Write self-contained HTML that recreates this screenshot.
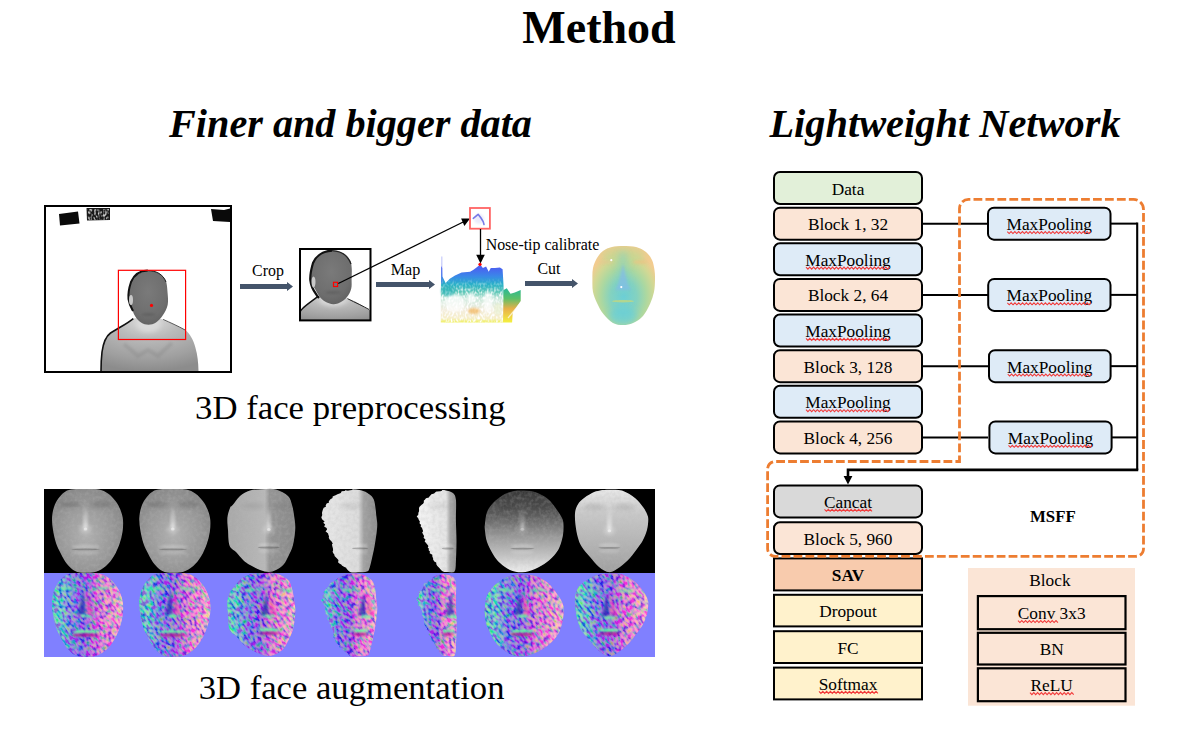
<!DOCTYPE html>
<html><head><meta charset="utf-8"><title>Method</title>
<style>html,body{margin:0;padding:0;background:#fff;}svg{display:block;font-family:"Liberation Serif", "Times New Roman", serif;}</style>
</head><body>
<svg width="1179" height="732" viewBox="0 0 1179 732">
<rect width="1179" height="732" fill="#fff"/>
<defs>
<radialGradient id="gHead" cx="0.5" cy="0.4" r="0.65">
  <stop offset="0" stop-color="#7a7a7a"/><stop offset="0.7" stop-color="#6e6e6e"/><stop offset="1" stop-color="#606060"/>
</radialGradient>
<radialGradient id="gBody" cx="0.48" cy="0.05" r="0.95">
  <stop offset="0" stop-color="#dedede"/><stop offset="0.35" stop-color="#bababa"/><stop offset="0.75" stop-color="#a0a0a0"/><stop offset="1" stop-color="#8c8c8c"/>
</radialGradient>
<linearGradient id="gCloud" gradientUnits="userSpaceOnUse" x1="0" y1="256.5" x2="0" y2="322.4">
  <stop offset="0" stop-color="#5a66f0"/><stop offset="0.175" stop-color="#4a62f0"/><stop offset="0.3" stop-color="#3a88e8"/>
  <stop offset="0.42" stop-color="#28b0c8"/><stop offset="0.54" stop-color="#60c8b8"/><stop offset="0.63" stop-color="#c8e8dc"/>
  <stop offset="0.81" stop-color="#f4eee0"/><stop offset="0.94" stop-color="#f6eec8"/><stop offset="1" stop-color="#f0f060"/>
</linearGradient>
<linearGradient id="gCloudR" x1="0" y1="0" x2="0" y2="1">
  <stop offset="0" stop-color="#28b898"/><stop offset="0.3" stop-color="#5cc068"/><stop offset="0.6" stop-color="#e8b048"/><stop offset="1" stop-color="#f4f040"/>
</linearGradient>
<radialGradient id="gFace3d" cx="0.5" cy="0.64" r="0.6">
  <stop offset="0" stop-color="#6ccfd6"/><stop offset="0.35" stop-color="#84d2c0"/><stop offset="0.6" stop-color="#acd8a0"/><stop offset="0.82" stop-color="#d2d894"/><stop offset="1" stop-color="#f2cc90"/>
</radialGradient>
<linearGradient id="gFaceC" x1="0" y1="0" x2="0" y2="1">
  <stop offset="0" stop-color="#78d0c8" stop-opacity="0.2"/><stop offset="0.5" stop-color="#6ccfd8" stop-opacity="0.6"/><stop offset="1" stop-color="#5ccce4" stop-opacity="0.9"/>
</linearGradient>
<linearGradient id="gNrm" x1="0" y1="0" x2="1" y2="0">
  <stop offset="0" stop-color="#20d890"/><stop offset="0.12" stop-color="#30c8b0"/><stop offset="0.3" stop-color="#4850d0"/><stop offset="0.5" stop-color="#6a34c8"/><stop offset="0.65" stop-color="#e050b8"/><stop offset="0.85" stop-color="#ff78b0"/><stop offset="1" stop-color="#ffb0a8"/>
</linearGradient>
<filter id="fNoise" x="0" y="0" width="100%" height="100%">
  <feTurbulence type="fractalNoise" baseFrequency="0.4 0.22" numOctaves="1" seed="5" result="n"/>
  <feColorMatrix in="n" type="matrix" values="5 0 0 0 -2.0  0 5 0 0 -2.1  0 -4 0 0 2.98  0 0 0 0 0.5"/>
  <feComposite in2="SourceGraphic" operator="in"/>
</filter>
<filter id="fGrain" x="0" y="0" width="100%" height="100%">
  <feTurbulence type="fractalNoise" baseFrequency="0.28" numOctaves="2" seed="7" result="n"/>
  <feColorMatrix in="n" type="matrix" values="0 0 0 0 0.5  0 0 0 0 0.5  0 0 0 0 0.5  0 0 0 -1.2 0.75"/>
  <feComposite in2="SourceGraphic" operator="in"/>
</filter>
<filter id="fSpeck" x="0" y="0" width="100%" height="100%">
  <feTurbulence type="fractalNoise" baseFrequency="0.55 0.35" numOctaves="1" seed="2" result="n"/>
  <feColorMatrix in="n" type="matrix" values="0 0 0 0 1  0 0 0 0 1  0 0 0 0 1  3.2 0 0 0 -1.35"/>
</filter>
<filter id="fBlur05" x="-50%" y="-50%" width="200%" height="200%"><feGaussianBlur stdDeviation="0.5"/></filter>
<filter id="fBlur1" x="-100%" y="-300%" width="300%" height="700%"><feGaussianBlur stdDeviation="1"/></filter>
<filter id="fBlur2" x="-100%" y="-300%" width="300%" height="700%"><feGaussianBlur stdDeviation="2"/></filter>
<filter id="fBlur3" x="-100%" y="-300%" width="300%" height="700%"><feGaussianBlur stdDeviation="3"/></filter>
</defs>
<g>
<rect x="45" y="206" width="186" height="166" fill="#fff"/>
<path d="M59,214 L78,211.5 L79.5,223.5 L60,225.5 Z" fill="#0a0a0a"/>
<path d="M86.5,208 L110,208 L110,220 L87,220.5 Z" fill="#1a1a1a"/>
<clipPath id="cBlob2"><path d="M87.5,209 L109,209 L109,219.5 L88,220 Z"/></clipPath>
<g clip-path="url(#cBlob2)" opacity="0.8"><rect x="86" y="207" width="25" height="15" filter="url(#fSpeck)"/></g>
<path d="M211,209 L224,210 L230,208.5 L230,222 L213,221 Z" fill="#0a0a0a"/>
<path d="M133.3,318.6 C127,324 118,328 110.5,333 C105,337 103,345 102,352 C101.3,358 101,364 101,371 L198.5,371 C198.3,362 197.5,355 195.5,348 C193.5,340 190,334 185.3,330.1 C178,326 170,322.5 163.1,319.4 C156,317.5 140,317 133.3,318.6 Z" fill="url(#gBody)"/>
<path d="M133.3,318.6 C127,324 118,328 110.5,333 C105,337 103,345 102,352 C101.3,358 101,364 101,371" fill="none" stroke="#111" stroke-width="1.6"/>
<path d="M163.1,319.4 C170,322.5 178,326 185.3,330.1" fill="none" stroke="#333" stroke-width="0.8"/>
<path d="M124,344 L138,356 L148,350 L158,356 L172,343" fill="none" stroke="#7a7a7a" stroke-width="4" opacity="0.25" filter="url(#fBlur1)"/>
<ellipse cx="148.5" cy="324" rx="12" ry="8" fill="#dadada" filter="url(#fBlur2)"/>
<path d="M147.80,270.40 C151.72,269.73 155.05,270.90 158.00,272.50 C160.95,274.10 163.92,276.75 165.50,280.00 C167.08,283.25 167.13,287.87 167.50,292.00 C167.87,296.13 168.45,300.97 167.70,304.80 C166.95,308.63 164.95,312.05 163.00,315.00 C161.05,317.95 158.42,320.88 156.00,322.50 C153.58,324.12 151.00,324.70 148.50,324.70 C146.00,324.70 143.25,323.95 141.00,322.50 C138.75,321.05 136.67,318.75 135.00,316.00 C133.33,313.25 132.08,308.88 131.00,306.00 C129.92,303.12 128.75,302.03 128.50,298.70 C128.25,295.37 128.50,289.70 129.50,286.00 C130.50,282.30 131.45,279.10 134.50,276.50 C137.55,273.90 143.88,271.07 147.80,270.40 Z" fill="url(#gHead)"/>
<path d="M147.8,270.6 C140,270.8 134,275 131,282 C129,288 128,294 128.5,299 C129.5,305 131.5,308 133,311" fill="none" stroke="#111" stroke-width="2"/>
<path d="M147.8,270.6 C156,270.8 163,274 166,282" fill="none" stroke="#222" stroke-width="1"/>
<ellipse cx="131" cy="300" rx="2" ry="5" fill="#c8c8c8"/>
<ellipse cx="148.5" cy="314.5" rx="7" ry="1.2" fill="#555" opacity="0.6" filter="url(#fBlur1)"/>
</g>
<rect x="45" y="206" width="186" height="166" fill="none" stroke="#000" stroke-width="2"/>
<svg x="300" y="249" width="70.5" height="71.4" viewBox="300 249 70.5 71.4" overflow="hidden">
<rect x="300" y="249" width="70.5" height="71.4" fill="#fff"/>
<path d="M317.90,296.40 C314.07,297.40 312.55,300.00 310.00,302.00 C307.45,304.00 304.27,306.90 302.60,308.40 C300.93,309.90 300.43,308.73 300.00,311.00 C299.57,313.27 288.17,320.17 300.00,322.00 C311.83,323.83 359.17,323.83 371.00,322.00 C382.83,320.17 371.48,313.08 371.00,311.00 C370.52,308.92 370.27,310.83 368.10,309.50 C365.93,308.17 361.45,304.82 358.00,303.00 C354.55,301.18 351.57,299.77 347.40,298.60 C343.23,297.43 337.92,296.37 333.00,296.00 C328.08,295.63 321.73,295.40 317.90,296.40 Z" fill="url(#gBody)"/>
<path d="M317.9,296.4 C312,301 306,305 302.6,308.4 C301,310 300.5,311 300,312" fill="none" stroke="#111" stroke-width="1.4"/>
<path d="M347.4,298.6 C356,303 363,306 369,309.5" fill="none" stroke="#222" stroke-width="1"/>
<ellipse cx="333" cy="300" rx="13" ry="6" fill="#d8d8d8" filter="url(#fBlur2)"/>
<path d="M332.10,250.50 C335.10,250.75 340.02,251.42 343.00,253.00 C345.98,254.58 348.55,257.50 350.00,260.00 C351.45,262.50 351.43,264.83 351.70,268.00 C351.97,271.17 351.68,275.55 351.60,279.00 C351.52,282.45 351.97,285.70 351.20,288.70 C350.43,291.70 348.87,294.70 347.00,297.00 C345.13,299.30 342.30,301.30 340.00,302.50 C337.70,303.70 335.70,304.37 333.20,304.20 C330.70,304.03 327.28,302.80 325.00,301.50 C322.72,300.20 321.17,298.48 319.50,296.40 C317.83,294.32 316.50,291.73 315.00,289.00 C313.50,286.27 311.08,283.83 310.50,280.00 C309.92,276.17 310.25,270.00 311.50,266.00 C312.75,262.00 315.75,258.42 318.00,256.00 C320.25,253.58 322.65,252.42 325.00,251.50 C327.35,250.58 329.10,250.25 332.10,250.50 Z" fill="url(#gHead)"/>
<path d="M332,250.6 C323,251 316,256 313,263 C311,270 310,276 310.3,280 C311,286 313,290 316,294 C317,296 318,297 319,298" fill="none" stroke="#111" stroke-width="2.2"/>
<path d="M332,250.6 C342,251 348,256 351,264" fill="none" stroke="#222" stroke-width="1.2"/>
<ellipse cx="313.5" cy="282" rx="2" ry="5.5" fill="#c8c8c8"/>
<ellipse cx="333.2" cy="292.5" rx="8" ry="1.4" fill="#555" opacity="0.5" filter="url(#fBlur1)"/>
</svg>
<rect x="300" y="249" width="70.5" height="71.4" fill="none" stroke="#000" stroke-width="2"/>
<path d="M441.2,266 L442.2,268 L442.4,276.6 L445.6,283 L449.8,278.8 L455,275.5 L461.6,272.4 L470.1,271.8 L473.5,269.8 L476.5,267.6 L480.2,264.4 L482.9,268.1 L486.1,266.5 L488.7,271.8 L490.8,268.1 L495,267.9 L499.9,267.6 L502.6,269.2 L503.6,286.2 L504,300 L503,322.4 L440.8,322.4 L440.8,300 Z" fill="url(#gCloud)"/>
<clipPath id="cCloud"><path d="M441.2,266 L442.2,268 L442.4,276.6 L445.6,283 L449.8,278.8 L455,275.5 L461.6,272.4 L470.1,271.8 L473.5,269.8 L476.5,267.6 L480.2,264.4 L482.9,268.1 L486.1,266.5 L488.7,271.8 L490.8,268.1 L495,267.9 L499.9,267.6 L502.6,269.2 L503.6,286.2 L504,300 L503,322.4 L440.8,322.4 L440.8,300 Z"/></clipPath>
<linearGradient id="gSpM" gradientUnits="userSpaceOnUse" x1="0" y1="278" x2="0" y2="296"><stop offset="0" stop-color="#fff" stop-opacity="0"/><stop offset="1" stop-color="#fff" stop-opacity="1"/></linearGradient>
<mask id="mSp" maskUnits="userSpaceOnUse" x="430" y="270" width="100" height="60"><rect x="430" y="270" width="100" height="60" fill="url(#gSpM)"/></mask>
<g clip-path="url(#cCloud)" mask="url(#mSp)"><rect x="440" y="278" width="65" height="46" filter="url(#fSpeck)"/></g>
<g fill="#fff" opacity="0.7" filter="url(#fBlur1)"><ellipse cx="455" cy="303" rx="10" ry="9"/><ellipse cx="488" cy="302" rx="4.5" ry="11"/><ellipse cx="471" cy="298" rx="4" ry="5"/></g>
<ellipse cx="448" cy="291" rx="7" ry="5" fill="#28b0b8" opacity="0.55" filter="url(#fBlur1)"/>
<ellipse cx="474" cy="311" rx="6" ry="3" fill="#f0a840" opacity="0.6" filter="url(#fBlur1)"/>
<ellipse cx="498" cy="309" rx="4" ry="6" fill="#e8f0d0" opacity="0.7" filter="url(#fBlur1)"/>
<path d="M441.2,256.5 L442.4,256.5 L442.6,284 L441,284 Z" fill="#6070f0" opacity="0.35"/>
<path d="M503.6,290 L506.8,288.3 L510.5,293.7 L514.8,292.6 L520.7,289.9 L520.7,301.1 L512.7,312.8 L512.1,322.4 L503,322.4 Z" fill="url(#gCloudR)"/>
<path d="M520.5,303 L508,318" stroke="#fff" stroke-width="1.2" opacity="0.7"/>
<ellipse cx="479" cy="219" rx="5" ry="5" fill="#b0b0f0" opacity="0.25" filter="url(#fBlur1)"/>
<path d="M473.3,218.3 L478.1,214.3 L481,218 L483.2,221.6 L484,224.5" stroke="#4e50e0" stroke-width="1.6" fill="none" opacity="0.75" stroke-linecap="round" stroke-linejoin="round" filter="url(#fBlur05)"/>
<clipPath id="cF3"><path d="M623.00,246.00 C627.00,246.00 632.17,246.00 636.00,247.00 C639.83,248.00 643.33,249.83 646.00,252.00 C648.67,254.17 650.58,257.00 652.00,260.00 C653.42,263.00 654.00,266.67 654.50,270.00 C655.00,273.33 655.08,276.33 655.00,280.00 C654.92,283.67 654.83,288.00 654.00,292.00 C653.17,296.00 651.83,300.00 650.00,304.00 C648.17,308.00 645.83,312.83 643.00,316.00 C640.17,319.17 636.33,321.50 633.00,323.00 C629.67,324.50 626.33,325.00 623.00,325.00 C619.67,325.00 616.27,324.83 613.00,323.00 C609.73,321.17 606.07,317.33 603.40,314.00 C600.73,310.67 598.73,306.67 597.00,303.00 C595.27,299.33 593.77,295.83 593.00,292.00 C592.23,288.17 592.40,284.00 592.40,280.00 C592.40,276.00 592.23,271.67 593.00,268.00 C593.77,264.33 595.33,260.83 597.00,258.00 C598.67,255.17 600.50,252.83 603.00,251.00 C605.50,249.17 608.67,247.83 612.00,247.00 C615.33,246.17 619.00,246.00 623.00,246.00 Z"/></clipPath>
<path d="M623.00,246.00 C627.00,246.00 632.17,246.00 636.00,247.00 C639.83,248.00 643.33,249.83 646.00,252.00 C648.67,254.17 650.58,257.00 652.00,260.00 C653.42,263.00 654.00,266.67 654.50,270.00 C655.00,273.33 655.08,276.33 655.00,280.00 C654.92,283.67 654.83,288.00 654.00,292.00 C653.17,296.00 651.83,300.00 650.00,304.00 C648.17,308.00 645.83,312.83 643.00,316.00 C640.17,319.17 636.33,321.50 633.00,323.00 C629.67,324.50 626.33,325.00 623.00,325.00 C619.67,325.00 616.27,324.83 613.00,323.00 C609.73,321.17 606.07,317.33 603.40,314.00 C600.73,310.67 598.73,306.67 597.00,303.00 C595.27,299.33 593.77,295.83 593.00,292.00 C592.23,288.17 592.40,284.00 592.40,280.00 C592.40,276.00 592.23,271.67 593.00,268.00 C593.77,264.33 595.33,260.83 597.00,258.00 C598.67,255.17 600.50,252.83 603.00,251.00 C605.50,249.17 608.67,247.83 612.00,247.00 C615.33,246.17 619.00,246.00 623.00,246.00 Z" fill="url(#gFace3d)"/>
<g clip-path="url(#cF3)">
<ellipse cx="623" cy="256" rx="22" ry="10" fill="#bcd892" opacity="0.55" filter="url(#fBlur3)"/>
<path d="M619,252 L627,252 L630,290 L616,290 Z" fill="#7cd0c8" opacity="0.45" filter="url(#fBlur3)"/>
<path d="M623,264 L618.5,283 L615.5,290 L630.5,290 L627.5,283 Z" fill="#84b8ee" opacity="0.6" filter="url(#fBlur1)"/>
<ellipse cx="623" cy="301.2" rx="11" ry="1.3" fill="#bcd888" opacity="0.9" filter="url(#fBlur05)"/>
<ellipse cx="623" cy="316" rx="14" ry="9" fill="#60cee0" opacity="0.6" filter="url(#fBlur3)"/>
<ellipse cx="606" cy="262" rx="7" ry="2" fill="#e8c890" opacity="0.45" filter="url(#fBlur1)"/>
<ellipse cx="640" cy="262" rx="7" ry="2" fill="#f0c080" opacity="0.55" filter="url(#fBlur1)"/>
</g>
<circle cx="611.3" cy="260.2" r="1.1" fill="#fff"/><circle cx="621.3" cy="287.1" r="1.1" fill="#fff"/>
<text x="599" y="43" font-size="46" font-weight="bold" font-style="normal" text-anchor="middle" fill="#000" >Method</text>
<text x="350.5" y="137" font-size="40.2" font-weight="bold" font-style="italic" text-anchor="middle" fill="#000" >Finer and bigger data</text>
<text x="945" y="137.4" font-size="40.4" font-weight="bold" font-style="italic" text-anchor="middle" fill="#000" >Lightweight Network</text>
<text x="350.35" y="419" font-size="34.74" font-weight="normal" font-style="normal" text-anchor="middle" fill="#000" >3D face preprocessing</text>
<text x="351.6" y="699" font-size="34.63" font-weight="normal" font-style="normal" text-anchor="middle" fill="#000" >3D face augmentation</text>
<line x1="922" y1="223.63" x2="988" y2="223.63" stroke="#000" stroke-width="2"/>
<line x1="1110" y1="223.63" x2="1137.2" y2="223.63" stroke="#000" stroke-width="2"/>
<line x1="922" y1="294.89" x2="988" y2="294.89" stroke="#000" stroke-width="2"/>
<line x1="1110" y1="294.89" x2="1137.2" y2="294.89" stroke="#000" stroke-width="2"/>
<line x1="922" y1="366.15" x2="988" y2="366.15" stroke="#000" stroke-width="2"/>
<line x1="1110" y1="366.15" x2="1137.2" y2="366.15" stroke="#000" stroke-width="2"/>
<line x1="922" y1="437.41" x2="988" y2="437.41" stroke="#000" stroke-width="2"/>
<line x1="1110" y1="437.41" x2="1137.2" y2="437.41" stroke="#000" stroke-width="2"/>
<polyline points="1136.2,223.63 1137.2,223.63 1137.2,469.9" fill="none" stroke="#000" stroke-width="2.1"/>
<polyline points="1138.25,469.9 848,469.9 848,477" fill="none" stroke="#000" stroke-width="2.6"/>
<polygon points="843.6,476 852.4,476 848,484.4" fill="#000"/>
<rect x="774.0" y="172.0" width="148.0" height="32.0" rx="6" fill="#E2F0D9" stroke="#000" stroke-width="2.0"/>
<rect x="774.0" y="207.63" width="148.0" height="32.0" rx="6" fill="#FBE5D6" stroke="#000" stroke-width="2.0"/>
<rect x="774.0" y="243.26" width="148.0" height="32.0" rx="6" fill="#DEEBF7" stroke="#000" stroke-width="2.0"/>
<rect x="774.0" y="278.89" width="148.0" height="32.0" rx="6" fill="#FBE5D6" stroke="#000" stroke-width="2.0"/>
<rect x="774.0" y="314.52" width="148.0" height="32.0" rx="6" fill="#DEEBF7" stroke="#000" stroke-width="2.0"/>
<rect x="774.0" y="350.15" width="148.0" height="32.0" rx="6" fill="#FBE5D6" stroke="#000" stroke-width="2.0"/>
<rect x="774.0" y="385.78000000000003" width="148.0" height="32.0" rx="6" fill="#DEEBF7" stroke="#000" stroke-width="2.0"/>
<rect x="774.0" y="421.41" width="148.0" height="32.0" rx="6" fill="#FBE5D6" stroke="#000" stroke-width="2.0"/>
<text x="848" y="194.6" font-size="17.3" font-weight="normal" font-style="normal" text-anchor="middle" fill="#000" >Data</text>
<text x="848" y="230.23" font-size="17.3" font-weight="normal" font-style="normal" text-anchor="middle" fill="#000" >Block 1, 32</text>
<text x="848" y="265.86" font-size="17.3" font-weight="normal" font-style="normal" text-anchor="middle" fill="#000" >MaxPooling</text>
<polyline points="806.00,267.16 807.90,269.16 809.80,267.16 811.70,269.16 813.60,267.16 815.50,269.16 817.40,267.16 819.30,269.16 821.20,267.16 823.10,269.16 825.00,267.16 826.90,269.16 828.80,267.16 830.70,269.16 832.60,267.16 834.50,269.16 836.40,267.16 838.30,269.16 840.20,267.16 842.10,269.16 844.00,267.16 845.90,269.16 847.80,267.16 849.70,269.16 851.60,267.16 853.50,269.16 855.40,267.16 857.30,269.16 859.20,267.16 861.10,269.16 863.00,267.16 864.90,269.16 866.80,267.16 868.70,269.16 870.60,267.16 872.50,269.16 874.40,267.16 876.30,269.16 878.20,267.16 880.10,269.16 882.00,267.16 883.90,269.16 885.80,267.16 887.70,269.16 889.60,267.16" fill="none" stroke="#f23a3a" stroke-width="1.1"/>
<text x="848" y="301.49" font-size="17.3" font-weight="normal" font-style="normal" text-anchor="middle" fill="#000" >Block 2, 64</text>
<text x="848" y="337.12" font-size="17.3" font-weight="normal" font-style="normal" text-anchor="middle" fill="#000" >MaxPooling</text>
<polyline points="806.00,338.42 807.90,340.42 809.80,338.42 811.70,340.42 813.60,338.42 815.50,340.42 817.40,338.42 819.30,340.42 821.20,338.42 823.10,340.42 825.00,338.42 826.90,340.42 828.80,338.42 830.70,340.42 832.60,338.42 834.50,340.42 836.40,338.42 838.30,340.42 840.20,338.42 842.10,340.42 844.00,338.42 845.90,340.42 847.80,338.42 849.70,340.42 851.60,338.42 853.50,340.42 855.40,338.42 857.30,340.42 859.20,338.42 861.10,340.42 863.00,338.42 864.90,340.42 866.80,338.42 868.70,340.42 870.60,338.42 872.50,340.42 874.40,338.42 876.30,340.42 878.20,338.42 880.10,340.42 882.00,338.42 883.90,340.42 885.80,338.42 887.70,340.42 889.60,338.42" fill="none" stroke="#f23a3a" stroke-width="1.1"/>
<text x="848" y="372.75" font-size="17.3" font-weight="normal" font-style="normal" text-anchor="middle" fill="#000" >Block 3, 128</text>
<text x="848" y="408.38000000000005" font-size="17.3" font-weight="normal" font-style="normal" text-anchor="middle" fill="#000" >MaxPooling</text>
<polyline points="806.00,409.68 807.90,411.68 809.80,409.68 811.70,411.68 813.60,409.68 815.50,411.68 817.40,409.68 819.30,411.68 821.20,409.68 823.10,411.68 825.00,409.68 826.90,411.68 828.80,409.68 830.70,411.68 832.60,409.68 834.50,411.68 836.40,409.68 838.30,411.68 840.20,409.68 842.10,411.68 844.00,409.68 845.90,411.68 847.80,409.68 849.70,411.68 851.60,409.68 853.50,411.68 855.40,409.68 857.30,411.68 859.20,409.68 861.10,411.68 863.00,409.68 864.90,411.68 866.80,409.68 868.70,411.68 870.60,409.68 872.50,411.68 874.40,409.68 876.30,411.68 878.20,409.68 880.10,411.68 882.00,409.68 883.90,411.68 885.80,409.68 887.70,411.68 889.60,409.68" fill="none" stroke="#f23a3a" stroke-width="1.1"/>
<text x="848" y="444.01000000000005" font-size="17.3" font-weight="normal" font-style="normal" text-anchor="middle" fill="#000" >Block 4, 256</text>
<rect x="988.0" y="207.63" width="122.5" height="32.0" rx="6" fill="#DEEBF7" stroke="#000" stroke-width="2.0"/>
<text x="1049.25" y="230.23" font-size="17.3" font-weight="normal" font-style="normal" text-anchor="middle" fill="#000" >MaxPooling</text>
<polyline points="1007.25,231.53 1009.15,233.53 1011.05,231.53 1012.95,233.53 1014.85,231.53 1016.75,233.53 1018.65,231.53 1020.55,233.53 1022.45,231.53 1024.35,233.53 1026.25,231.53 1028.15,233.53 1030.05,231.53 1031.95,233.53 1033.85,231.53 1035.75,233.53 1037.65,231.53 1039.55,233.53 1041.45,231.53 1043.35,233.53 1045.25,231.53 1047.15,233.53 1049.05,231.53 1050.95,233.53 1052.85,231.53 1054.75,233.53 1056.65,231.53 1058.55,233.53 1060.45,231.53 1062.35,233.53 1064.25,231.53 1066.15,233.53 1068.05,231.53 1069.95,233.53 1071.85,231.53 1073.75,233.53 1075.65,231.53 1077.55,233.53 1079.45,231.53 1081.35,233.53 1083.25,231.53 1085.15,233.53 1087.05,231.53 1088.95,233.53 1090.85,231.53" fill="none" stroke="#f23a3a" stroke-width="1.1"/>
<rect x="988.2" y="278.89" width="122.29999999999995" height="32.0" rx="6" fill="#DEEBF7" stroke="#000" stroke-width="2.0"/>
<text x="1049.35" y="301.49" font-size="17.3" font-weight="normal" font-style="normal" text-anchor="middle" fill="#000" >MaxPooling</text>
<polyline points="1007.35,302.79 1009.25,304.79 1011.15,302.79 1013.05,304.79 1014.95,302.79 1016.85,304.79 1018.75,302.79 1020.65,304.79 1022.55,302.79 1024.45,304.79 1026.35,302.79 1028.25,304.79 1030.15,302.79 1032.05,304.79 1033.95,302.79 1035.85,304.79 1037.75,302.79 1039.65,304.79 1041.55,302.79 1043.45,304.79 1045.35,302.79 1047.25,304.79 1049.15,302.79 1051.05,304.79 1052.95,302.79 1054.85,304.79 1056.75,302.79 1058.65,304.79 1060.55,302.79 1062.45,304.79 1064.35,302.79 1066.25,304.79 1068.15,302.79 1070.05,304.79 1071.95,302.79 1073.85,304.79 1075.75,302.79 1077.65,304.79 1079.55,302.79 1081.45,304.79 1083.35,302.79 1085.25,304.79 1087.15,302.79 1089.05,304.79 1090.95,302.79" fill="none" stroke="#f23a3a" stroke-width="1.1"/>
<rect x="989.0" y="350.15" width="121.59999999999991" height="32.0" rx="6" fill="#DEEBF7" stroke="#000" stroke-width="2.0"/>
<text x="1049.8" y="372.75" font-size="17.3" font-weight="normal" font-style="normal" text-anchor="middle" fill="#000" >MaxPooling</text>
<polyline points="1007.80,374.05 1009.70,376.05 1011.60,374.05 1013.50,376.05 1015.40,374.05 1017.30,376.05 1019.20,374.05 1021.10,376.05 1023.00,374.05 1024.90,376.05 1026.80,374.05 1028.70,376.05 1030.60,374.05 1032.50,376.05 1034.40,374.05 1036.30,376.05 1038.20,374.05 1040.10,376.05 1042.00,374.05 1043.90,376.05 1045.80,374.05 1047.70,376.05 1049.60,374.05 1051.50,376.05 1053.40,374.05 1055.30,376.05 1057.20,374.05 1059.10,376.05 1061.00,374.05 1062.90,376.05 1064.80,374.05 1066.70,376.05 1068.60,374.05 1070.50,376.05 1072.40,374.05 1074.30,376.05 1076.20,374.05 1078.10,376.05 1080.00,374.05 1081.90,376.05 1083.80,374.05 1085.70,376.05 1087.60,374.05 1089.50,376.05 1091.40,374.05" fill="none" stroke="#f23a3a" stroke-width="1.1"/>
<rect x="989.4" y="421.41" width="122.19999999999993" height="32.0" rx="6" fill="#DEEBF7" stroke="#000" stroke-width="2.0"/>
<text x="1050.5" y="444.01000000000005" font-size="17.3" font-weight="normal" font-style="normal" text-anchor="middle" fill="#000" >MaxPooling</text>
<polyline points="1008.50,445.31 1010.40,447.31 1012.30,445.31 1014.20,447.31 1016.10,445.31 1018.00,447.31 1019.90,445.31 1021.80,447.31 1023.70,445.31 1025.60,447.31 1027.50,445.31 1029.40,447.31 1031.30,445.31 1033.20,447.31 1035.10,445.31 1037.00,447.31 1038.90,445.31 1040.80,447.31 1042.70,445.31 1044.60,447.31 1046.50,445.31 1048.40,447.31 1050.30,445.31 1052.20,447.31 1054.10,445.31 1056.00,447.31 1057.90,445.31 1059.80,447.31 1061.70,445.31 1063.60,447.31 1065.50,445.31 1067.40,447.31 1069.30,445.31 1071.20,447.31 1073.10,445.31 1075.00,447.31 1076.90,445.31 1078.80,447.31 1080.70,445.31 1082.60,447.31 1084.50,445.31 1086.40,447.31 1088.30,445.31 1090.20,447.31 1092.10,445.31" fill="none" stroke="#f23a3a" stroke-width="1.1"/>
<rect x="774.0" y="485.4" width="148.0" height="32.0" rx="6" fill="#D9D9D9" stroke="#000" stroke-width="2.0"/>
<text x="848" y="508.0" font-size="17.3" font-weight="normal" font-style="normal" text-anchor="middle" fill="#000" >Cancat</text>
<polyline points="824.50,509.30 826.40,511.30 828.30,509.30 830.20,511.30 832.10,509.30 834.00,511.30 835.90,509.30 837.80,511.30 839.70,509.30 841.60,511.30 843.50,509.30 845.40,511.30 847.30,509.30 849.20,511.30 851.10,509.30 853.00,511.30 854.90,509.30 856.80,511.30 858.70,509.30 860.60,511.30 862.50,509.30 864.40,511.30 866.30,509.30 868.20,511.30 870.10,509.30 872.00,511.30" fill="none" stroke="#f23a3a" stroke-width="1.1"/>
<rect x="774.0" y="522.2" width="148.0" height="31.799999999999955" rx="6" fill="#FBE5D6" stroke="#000" stroke-width="2.0"/>
<text x="848" y="544.7" font-size="17.3" font-weight="normal" font-style="normal" text-anchor="middle" fill="#000" >Block 5, 960</text>
<rect x="774.0" y="558.4" width="148.0" height="32.0" rx="0" fill="#F8CBAD" stroke="#000" stroke-width="2.0"/>
<text x="848" y="580.8" font-size="17.3" font-weight="bold" font-style="normal" text-anchor="middle" fill="#000" >SAV</text>
<rect x="774.0" y="594.8" width="148.0" height="31.600000000000023" rx="0" fill="#FFF2CC" stroke="#000" stroke-width="2.0"/>
<text x="848" y="617.1999999999999" font-size="17.3" font-weight="normal" font-style="normal" text-anchor="middle" fill="#000" >Dropout</text>
<rect x="774.0" y="631.2" width="148.0" height="31.799999999999955" rx="0" fill="#FFF2CC" stroke="#000" stroke-width="2.0"/>
<text x="848" y="653.7" font-size="17.3" font-weight="normal" font-style="normal" text-anchor="middle" fill="#000" >FC</text>
<rect x="774.0" y="667.6" width="148.0" height="31.799999999999955" rx="0" fill="#FFF2CC" stroke="#000" stroke-width="2.0"/>
<text x="848" y="690.1" font-size="17.3" font-weight="normal" font-style="normal" text-anchor="middle" fill="#000" >Softmax</text>
<polyline points="819.00,691.40 820.90,693.40 822.80,691.40 824.70,693.40 826.60,691.40 828.50,693.40 830.40,691.40 832.30,693.40 834.20,691.40 836.10,693.40 838.00,691.40 839.90,693.40 841.80,691.40 843.70,693.40 845.60,691.40 847.50,693.40 849.40,691.40 851.30,693.40 853.20,691.40 855.10,693.40 857.00,691.40 858.90,693.40 860.80,691.40 862.70,693.40 864.60,691.40 866.50,693.40 868.40,691.40 870.30,693.40 872.20,691.40 874.10,693.40 876.00,691.40 877.90,693.40" fill="none" stroke="#f23a3a" stroke-width="1.1"/>
<path d="M 959.5 461.5 L 959.5 208.4 A 9 9 0 0 1 968.5 199.4 L 1133.5 199.4 A 10 10 0 0 1 1143.5 209.4 L 1143.5 548.8 A 7.5 7.5 0 0 1 1136 556.3 L 775.1 556.3 A 7.5 7.5 0 0 1 767.6 548.8 L 767.6 469.1 A 7.6 7.6 0 0 1 775.2 461.5 Z" fill="none" stroke="#ED7D31" stroke-width="2.8" stroke-dasharray="8.8 3.15" stroke-dashoffset="2.7"/>
<text x="1052.8" y="522.3" font-size="16.8" font-weight="bold" font-style="normal" text-anchor="middle" fill="#000" >MSFF</text>
<rect x="968" y="568" width="167" height="137.7" fill="#FBE5D6"/>
<text x="1049.9" y="585.6" font-size="17.3" font-weight="normal" font-style="normal" text-anchor="middle" fill="#000" >Block</text>
<rect x="977.9" y="596.1" width="147.59999999999997" height="33.09999999999995" rx="0" fill="#FBE5D6" stroke="#000" stroke-width="2.2"/>
<text x="1051.7" y="619.25" font-size="17.3" font-weight="normal" font-style="normal" text-anchor="middle" fill="#000" >Conv 3x3</text>
<polyline points="1018.00,620.55 1019.90,622.55 1021.80,620.55 1023.70,622.55 1025.60,620.55 1027.50,622.55 1029.40,620.55 1031.30,622.55 1033.20,620.55 1035.10,622.55 1037.00,620.55 1038.90,622.55 1040.80,620.55 1042.70,622.55 1044.60,620.55 1046.50,622.55 1048.40,620.55 1050.30,622.55 1052.20,620.55 1054.10,622.55 1056.00,620.55 1057.90,622.55" fill="none" stroke="#f23a3a" stroke-width="1.1"/>
<rect x="977.9" y="632.8000000000001" width="147.59999999999997" height="31.699999999999978" rx="0" fill="#FBE5D6" stroke="#000" stroke-width="2.2"/>
<text x="1051.7" y="655.2500000000001" font-size="17.3" font-weight="normal" font-style="normal" text-anchor="middle" fill="#000" >BN</text>
<rect x="977.9" y="668.3000000000001" width="147.59999999999997" height="32.899999999999906" rx="0" fill="#FBE5D6" stroke="#000" stroke-width="2.2"/>
<text x="1051.7" y="691.35" font-size="17.3" font-weight="normal" font-style="normal" text-anchor="middle" fill="#000" >ReLU</text>
<polyline points="1030.00,692.65 1031.90,694.65 1033.80,692.65 1035.70,694.65 1037.60,692.65 1039.50,694.65 1041.40,692.65 1043.30,694.65 1045.20,692.65 1047.10,694.65 1049.00,692.65 1050.90,694.65 1052.80,692.65 1054.70,694.65 1056.60,692.65 1058.50,694.65 1060.40,692.65 1062.30,694.65 1064.20,692.65 1066.10,694.65 1068.00,692.65 1069.90,694.65 1071.80,692.65 1073.70,694.65" fill="none" stroke="#f23a3a" stroke-width="1.1"/>
<polygon points="240,284.0 287,284.0 287,282.0 293,286.5 287,291.0 287,289.0 240,289.0" fill="#44546A"/>
<polygon points="376,282.0 429,282.0 429,280.0 435,284.5 429,289.0 429,287.0 376,287.0" fill="#44546A"/>
<polygon points="525,281.1 572,281.1 572,279.1 578,283.6 572,288.1 572,286.1 525,286.1" fill="#44546A"/>
<text x="268" y="275.6" font-size="15.9" font-weight="normal" font-style="normal" text-anchor="middle" fill="#000" >Crop</text>
<text x="405.5" y="274.8" font-size="16.1" font-weight="normal" font-style="normal" text-anchor="middle" fill="#000" >Map</text>
<text x="549" y="273.7" font-size="15.9" font-weight="normal" font-style="normal" text-anchor="middle" fill="#000" >Cut</text>
<text x="542.5" y="250" font-size="15.95" font-weight="normal" font-style="normal" text-anchor="middle" fill="#000" >Nose-tip calibrate</text>
<rect x="118.4" y="270.3" width="67.2" height="69.2" fill="none" stroke="#f00" stroke-width="1.2"/>
<circle cx="151.5" cy="305.4" r="1.6" fill="#f00"/>
<rect x="333.5" y="282.3" width="4.1" height="4.2" fill="none" stroke="#f00" stroke-width="1.2"/>
<line x1="338.3" y1="283.5" x2="463.2" y2="222" stroke="#000" stroke-width="1.3"/>
<polygon points="470,218.4 461.1,218.4 464.4,226" fill="#000"/>
<rect x="470" y="208" width="19.9" height="20.7" fill="none" stroke="#ff6464" stroke-width="1.8"/>
<line x1="480.5" y1="229" x2="480.5" y2="258" stroke="#000" stroke-width="1.3"/>
<polygon points="476.2,254.8 484.8,254.8 480.5,263.6" fill="#000"/>
<circle cx="480" cy="264.3" r="1.6" fill="#f00"/>
<rect x="44" y="489" width="611" height="84" fill="#000"/>
<rect x="44" y="573" width="611" height="84" fill="#8080FF"/>
<defs>
<radialGradient id="gf1" cx="0.48" cy="0.55" r="0.62"><stop offset="0" stop-color="#b0b0b0"/><stop offset="0.6" stop-color="#999"/><stop offset="1" stop-color="#858585"/></radialGradient>
<linearGradient id="gf3" x1="0" y1="0" x2="1" y2="0"><stop offset="0" stop-color="#a8a8a8"/><stop offset="0.55" stop-color="#b8b8b8"/><stop offset="0.62" stop-color="#959595"/><stop offset="1" stop-color="#8a8a8a"/></linearGradient>
<linearGradient id="gf4" x1="0" y1="0" x2="1" y2="0"><stop offset="0" stop-color="#e8e8e8"/><stop offset="0.66" stop-color="#dcdcdc"/><stop offset="0.76" stop-color="#a0a0a0"/><stop offset="1" stop-color="#8e8e8e"/></linearGradient>
<linearGradient id="gf5" x1="0" y1="0" x2="1" y2="0"><stop offset="0" stop-color="#f4f4f4"/><stop offset="0.74" stop-color="#e4e4e4"/><stop offset="0.84" stop-color="#a8a8a8"/><stop offset="1" stop-color="#909090"/></linearGradient>
<linearGradient id="gf6" x1="0" y1="0" x2="0" y2="1"><stop offset="0" stop-color="#383838"/><stop offset="0.3" stop-color="#5c5c5c"/><stop offset="0.55" stop-color="#969696"/><stop offset="0.8" stop-color="#c4c4c4"/><stop offset="1" stop-color="#f0f0f0"/></linearGradient>
<linearGradient id="gf7" x1="0" y1="0" x2="0" y2="1"><stop offset="0" stop-color="#e8e8e8"/><stop offset="0.3" stop-color="#c8c8c8"/><stop offset="1" stop-color="#a0a0a0"/></linearGradient>
<linearGradient id="gNose" x1="0" y1="0" x2="0" y2="1"><stop offset="0" stop-color="#fff" stop-opacity="0.1"/><stop offset="0.8" stop-color="#fff" stop-opacity="0.6"/><stop offset="1" stop-color="#fff" stop-opacity="0.3"/></linearGradient>
</defs>
<clipPath id="cf0"><path d="M71.00,489.50 C74.50,488.92 80.33,489.00 85.00,489.00 C89.67,489.00 95.17,488.75 99.00,489.50 C102.83,490.25 105.25,491.58 108.00,493.50 C110.75,495.42 113.42,498.25 115.50,501.00 C117.58,503.75 119.25,506.83 120.50,510.00 C121.75,513.17 122.67,516.33 123.00,520.00 C123.33,523.67 123.08,528.00 122.50,532.00 C121.92,536.00 120.92,540.00 119.50,544.00 C118.08,548.00 116.25,552.33 114.00,556.00 C111.75,559.67 109.00,563.37 106.00,566.00 C103.00,568.63 99.50,570.67 96.00,571.80 C92.50,572.93 88.50,572.93 85.00,572.80 C81.50,572.67 78.00,572.47 75.00,571.00 C72.00,569.53 69.33,566.83 67.00,564.00 C64.67,561.17 62.83,557.50 61.00,554.00 C59.17,550.50 57.33,547.00 56.00,543.00 C54.67,539.00 53.67,534.17 53.00,530.00 C52.33,525.83 51.83,521.83 52.00,518.00 C52.17,514.17 53.00,510.17 54.00,507.00 C55.00,503.83 56.33,501.42 58.00,499.00 C59.67,496.58 61.83,494.08 64.00,492.50 C66.17,490.92 67.50,490.08 71.00,489.50 Z"/></clipPath>
<path d="M71.00,489.50 C74.50,488.92 80.33,489.00 85.00,489.00 C89.67,489.00 95.17,488.75 99.00,489.50 C102.83,490.25 105.25,491.58 108.00,493.50 C110.75,495.42 113.42,498.25 115.50,501.00 C117.58,503.75 119.25,506.83 120.50,510.00 C121.75,513.17 122.67,516.33 123.00,520.00 C123.33,523.67 123.08,528.00 122.50,532.00 C121.92,536.00 120.92,540.00 119.50,544.00 C118.08,548.00 116.25,552.33 114.00,556.00 C111.75,559.67 109.00,563.37 106.00,566.00 C103.00,568.63 99.50,570.67 96.00,571.80 C92.50,572.93 88.50,572.93 85.00,572.80 C81.50,572.67 78.00,572.47 75.00,571.00 C72.00,569.53 69.33,566.83 67.00,564.00 C64.67,561.17 62.83,557.50 61.00,554.00 C59.17,550.50 57.33,547.00 56.00,543.00 C54.67,539.00 53.67,534.17 53.00,530.00 C52.33,525.83 51.83,521.83 52.00,518.00 C52.17,514.17 53.00,510.17 54.00,507.00 C55.00,503.83 56.33,501.42 58.00,499.00 C59.67,496.58 61.83,494.08 64.00,492.50 C66.17,490.92 67.50,490.08 71.00,489.50 Z" fill="url(#gf1)"/>
<g clip-path="url(#cf0)">
<path d="M71.00,489.50 C74.50,488.92 80.33,489.00 85.00,489.00 C89.67,489.00 95.17,488.75 99.00,489.50 C102.83,490.25 105.25,491.58 108.00,493.50 C110.75,495.42 113.42,498.25 115.50,501.00 C117.58,503.75 119.25,506.83 120.50,510.00 C121.75,513.17 122.67,516.33 123.00,520.00 C123.33,523.67 123.08,528.00 122.50,532.00 C121.92,536.00 120.92,540.00 119.50,544.00 C118.08,548.00 116.25,552.33 114.00,556.00 C111.75,559.67 109.00,563.37 106.00,566.00 C103.00,568.63 99.50,570.67 96.00,571.80 C92.50,572.93 88.50,572.93 85.00,572.80 C81.50,572.67 78.00,572.47 75.00,571.00 C72.00,569.53 69.33,566.83 67.00,564.00 C64.67,561.17 62.83,557.50 61.00,554.00 C59.17,550.50 57.33,547.00 56.00,543.00 C54.67,539.00 53.67,534.17 53.00,530.00 C52.33,525.83 51.83,521.83 52.00,518.00 C52.17,514.17 53.00,510.17 54.00,507.00 C55.00,503.83 56.33,501.42 58.00,499.00 C59.67,496.58 61.83,494.08 64.00,492.50 C66.17,490.92 67.50,490.08 71.00,489.50 Z" fill="#888" filter="url(#fGrain)" opacity="0.45"/>
<ellipse cx="85.5" cy="519" rx="2.6" ry="12" fill="url(#gNose)" opacity="0.8" filter="url(#fBlur1)"/>
<ellipse cx="85.5" cy="529" rx="5.5" ry="4.5" fill="#fff" opacity="0.3" filter="url(#fBlur2)"/>
<ellipse cx="85.5" cy="529" rx="1.8" ry="1.5" fill="#fff" opacity="0.45" filter="url(#fBlur05)"/>
<ellipse cx="70.5" cy="504.5" rx="11" ry="2.5" fill="#333" opacity="0.25" filter="url(#fBlur2)"/>
<ellipse cx="100.5" cy="504.5" rx="11" ry="2.5" fill="#333" opacity="0.25" filter="url(#fBlur2)"/>
<ellipse cx="85.5" cy="546.8" rx="14" ry="2.2" fill="#fff" opacity="0.22" filter="url(#fBlur1)"/>
<ellipse cx="85.5" cy="549.3" rx="14" ry="0.9" fill="#444" opacity="0.35" filter="url(#fBlur05)"/>
<ellipse cx="85.5" cy="552.8" rx="14" ry="2.2" fill="#fff" opacity="0.15" filter="url(#fBlur1)"/>
</g>
<clipPath id="cf1"><path d="M158.30,489.50 C161.80,488.92 167.63,489.00 172.30,489.00 C176.97,489.00 182.47,488.75 186.30,489.50 C190.13,490.25 192.55,491.58 195.30,493.50 C198.05,495.42 200.72,498.25 202.80,501.00 C204.88,503.75 206.55,506.83 207.80,510.00 C209.05,513.17 209.97,516.33 210.30,520.00 C210.63,523.67 210.38,528.00 209.80,532.00 C209.22,536.00 208.22,540.00 206.80,544.00 C205.38,548.00 203.55,552.33 201.30,556.00 C199.05,559.67 196.30,563.37 193.30,566.00 C190.30,568.63 186.80,570.67 183.30,571.80 C179.80,572.93 175.80,572.93 172.30,572.80 C168.80,572.67 165.30,572.47 162.30,571.00 C159.30,569.53 156.63,566.83 154.30,564.00 C151.97,561.17 150.13,557.50 148.30,554.00 C146.47,550.50 144.63,547.00 143.30,543.00 C141.97,539.00 140.97,534.17 140.30,530.00 C139.63,525.83 139.13,521.83 139.30,518.00 C139.47,514.17 140.30,510.17 141.30,507.00 C142.30,503.83 143.63,501.42 145.30,499.00 C146.97,496.58 149.13,494.08 151.30,492.50 C153.47,490.92 154.80,490.08 158.30,489.50 Z"/></clipPath>
<path d="M158.30,489.50 C161.80,488.92 167.63,489.00 172.30,489.00 C176.97,489.00 182.47,488.75 186.30,489.50 C190.13,490.25 192.55,491.58 195.30,493.50 C198.05,495.42 200.72,498.25 202.80,501.00 C204.88,503.75 206.55,506.83 207.80,510.00 C209.05,513.17 209.97,516.33 210.30,520.00 C210.63,523.67 210.38,528.00 209.80,532.00 C209.22,536.00 208.22,540.00 206.80,544.00 C205.38,548.00 203.55,552.33 201.30,556.00 C199.05,559.67 196.30,563.37 193.30,566.00 C190.30,568.63 186.80,570.67 183.30,571.80 C179.80,572.93 175.80,572.93 172.30,572.80 C168.80,572.67 165.30,572.47 162.30,571.00 C159.30,569.53 156.63,566.83 154.30,564.00 C151.97,561.17 150.13,557.50 148.30,554.00 C146.47,550.50 144.63,547.00 143.30,543.00 C141.97,539.00 140.97,534.17 140.30,530.00 C139.63,525.83 139.13,521.83 139.30,518.00 C139.47,514.17 140.30,510.17 141.30,507.00 C142.30,503.83 143.63,501.42 145.30,499.00 C146.97,496.58 149.13,494.08 151.30,492.50 C153.47,490.92 154.80,490.08 158.30,489.50 Z" fill="url(#gf1)"/>
<g clip-path="url(#cf1)">
<path d="M158.30,489.50 C161.80,488.92 167.63,489.00 172.30,489.00 C176.97,489.00 182.47,488.75 186.30,489.50 C190.13,490.25 192.55,491.58 195.30,493.50 C198.05,495.42 200.72,498.25 202.80,501.00 C204.88,503.75 206.55,506.83 207.80,510.00 C209.05,513.17 209.97,516.33 210.30,520.00 C210.63,523.67 210.38,528.00 209.80,532.00 C209.22,536.00 208.22,540.00 206.80,544.00 C205.38,548.00 203.55,552.33 201.30,556.00 C199.05,559.67 196.30,563.37 193.30,566.00 C190.30,568.63 186.80,570.67 183.30,571.80 C179.80,572.93 175.80,572.93 172.30,572.80 C168.80,572.67 165.30,572.47 162.30,571.00 C159.30,569.53 156.63,566.83 154.30,564.00 C151.97,561.17 150.13,557.50 148.30,554.00 C146.47,550.50 144.63,547.00 143.30,543.00 C141.97,539.00 140.97,534.17 140.30,530.00 C139.63,525.83 139.13,521.83 139.30,518.00 C139.47,514.17 140.30,510.17 141.30,507.00 C142.30,503.83 143.63,501.42 145.30,499.00 C146.97,496.58 149.13,494.08 151.30,492.50 C153.47,490.92 154.80,490.08 158.30,489.50 Z" fill="#888" filter="url(#fGrain)" opacity="0.45"/>
<ellipse cx="172.8" cy="519" rx="2.6" ry="12" fill="url(#gNose)" opacity="0.8" filter="url(#fBlur1)"/>
<ellipse cx="172.8" cy="529" rx="5.5" ry="4.5" fill="#fff" opacity="0.3" filter="url(#fBlur2)"/>
<ellipse cx="172.8" cy="529" rx="1.8" ry="1.5" fill="#fff" opacity="0.45" filter="url(#fBlur05)"/>
<ellipse cx="157.8" cy="504.5" rx="11" ry="2.5" fill="#333" opacity="0.25" filter="url(#fBlur2)"/>
<ellipse cx="187.8" cy="504.5" rx="11" ry="2.5" fill="#333" opacity="0.25" filter="url(#fBlur2)"/>
<ellipse cx="172.8" cy="546.8" rx="14" ry="2.2" fill="#fff" opacity="0.22" filter="url(#fBlur1)"/>
<ellipse cx="172.8" cy="549.3" rx="14" ry="0.9" fill="#444" opacity="0.35" filter="url(#fBlur05)"/>
<ellipse cx="172.8" cy="552.8" rx="14" ry="2.2" fill="#fff" opacity="0.15" filter="url(#fBlur1)"/>
</g>
<clipPath id="cf2"><path d="M262.40,489.20 C266.73,489.03 271.73,488.37 276.00,489.50 C280.27,490.63 285.33,493.42 288.00,496.00 C290.67,498.58 291.00,501.83 292.00,505.00 C293.00,508.17 293.45,511.10 294.00,515.00 C294.55,518.90 295.47,523.40 295.30,528.40 C295.13,533.40 294.13,540.40 293.00,545.00 C291.87,549.60 290.07,552.75 288.50,556.00 C286.93,559.25 285.68,562.17 283.60,564.50 C281.52,566.83 278.47,568.75 276.00,570.00 C273.53,571.25 271.47,572.00 268.80,572.00 C266.13,572.00 263.13,571.17 260.00,570.00 C256.87,568.83 252.78,566.63 250.00,565.00 C247.22,563.37 245.63,562.37 243.30,560.20 C240.97,558.03 238.30,554.47 236.00,552.00 C233.70,549.53 230.83,549.07 229.50,545.40 C228.17,541.73 228.35,534.60 228.00,530.00 C227.65,525.40 227.07,521.47 227.40,517.80 C227.73,514.13 229.12,510.12 230.00,508.00 C230.88,505.88 231.03,507.10 232.70,505.10 C234.37,503.10 237.12,498.43 240.00,496.00 C242.88,493.57 246.27,491.63 250.00,490.50 C253.73,489.37 258.07,489.37 262.40,489.20 Z"/></clipPath>
<path d="M262.40,489.20 C266.73,489.03 271.73,488.37 276.00,489.50 C280.27,490.63 285.33,493.42 288.00,496.00 C290.67,498.58 291.00,501.83 292.00,505.00 C293.00,508.17 293.45,511.10 294.00,515.00 C294.55,518.90 295.47,523.40 295.30,528.40 C295.13,533.40 294.13,540.40 293.00,545.00 C291.87,549.60 290.07,552.75 288.50,556.00 C286.93,559.25 285.68,562.17 283.60,564.50 C281.52,566.83 278.47,568.75 276.00,570.00 C273.53,571.25 271.47,572.00 268.80,572.00 C266.13,572.00 263.13,571.17 260.00,570.00 C256.87,568.83 252.78,566.63 250.00,565.00 C247.22,563.37 245.63,562.37 243.30,560.20 C240.97,558.03 238.30,554.47 236.00,552.00 C233.70,549.53 230.83,549.07 229.50,545.40 C228.17,541.73 228.35,534.60 228.00,530.00 C227.65,525.40 227.07,521.47 227.40,517.80 C227.73,514.13 229.12,510.12 230.00,508.00 C230.88,505.88 231.03,507.10 232.70,505.10 C234.37,503.10 237.12,498.43 240.00,496.00 C242.88,493.57 246.27,491.63 250.00,490.50 C253.73,489.37 258.07,489.37 262.40,489.20 Z" fill="url(#gf3)"/>
<g clip-path="url(#cf2)">
<path d="M262.40,489.20 C266.73,489.03 271.73,488.37 276.00,489.50 C280.27,490.63 285.33,493.42 288.00,496.00 C290.67,498.58 291.00,501.83 292.00,505.00 C293.00,508.17 293.45,511.10 294.00,515.00 C294.55,518.90 295.47,523.40 295.30,528.40 C295.13,533.40 294.13,540.40 293.00,545.00 C291.87,549.60 290.07,552.75 288.50,556.00 C286.93,559.25 285.68,562.17 283.60,564.50 C281.52,566.83 278.47,568.75 276.00,570.00 C273.53,571.25 271.47,572.00 268.80,572.00 C266.13,572.00 263.13,571.17 260.00,570.00 C256.87,568.83 252.78,566.63 250.00,565.00 C247.22,563.37 245.63,562.37 243.30,560.20 C240.97,558.03 238.30,554.47 236.00,552.00 C233.70,549.53 230.83,549.07 229.50,545.40 C228.17,541.73 228.35,534.60 228.00,530.00 C227.65,525.40 227.07,521.47 227.40,517.80 C227.73,514.13 229.12,510.12 230.00,508.00 C230.88,505.88 231.03,507.10 232.70,505.10 C234.37,503.10 237.12,498.43 240.00,496.00 C242.88,493.57 246.27,491.63 250.00,490.50 C253.73,489.37 258.07,489.37 262.40,489.20 Z" fill="#888" filter="url(#fGrain)" opacity="0.45"/>
<ellipse cx="268.8" cy="519.5" rx="2.6" ry="12" fill="url(#gNose)" opacity="0.8" filter="url(#fBlur1)"/>
<ellipse cx="268.8" cy="529.5" rx="5.5" ry="4.5" fill="#fff" opacity="0.3" filter="url(#fBlur2)"/>
<ellipse cx="268.8" cy="529.5" rx="1.8" ry="1.5" fill="#fff" opacity="0.45" filter="url(#fBlur05)"/>
<ellipse cx="253.8" cy="506" rx="11" ry="2.5" fill="#333" opacity="0.1" filter="url(#fBlur2)"/>
<ellipse cx="283.8" cy="506" rx="11" ry="2.5" fill="#333" opacity="0.1" filter="url(#fBlur2)"/>
<ellipse cx="268.8" cy="545.0" rx="11" ry="2.2" fill="#fff" opacity="0.22" filter="url(#fBlur1)"/>
<ellipse cx="268.8" cy="547.5" rx="11" ry="0.9" fill="#444" opacity="0.35" filter="url(#fBlur05)"/>
<ellipse cx="268.8" cy="551.0" rx="11" ry="2.2" fill="#fff" opacity="0.15" filter="url(#fBlur1)"/>
</g>
<clipPath id="cf3"><path d="M354.80,489.40 C355.83,489.53 358.97,489.63 361.00,490.20 C363.03,490.77 364.87,491.23 367.00,492.80 C369.13,494.37 372.22,495.53 373.80,499.60 C375.38,503.67 375.93,512.68 376.50,517.20 C377.07,521.72 377.43,522.40 377.20,526.70 C376.97,531.00 375.90,538.02 375.10,543.00 C374.30,547.98 373.30,552.53 372.40,556.60 C371.50,560.67 370.60,564.92 369.70,567.40 C368.80,569.88 368.95,570.68 367.00,571.50 C365.05,572.32 360.72,572.18 358.00,572.30 C355.28,572.42 352.60,572.78 350.70,572.20 C348.80,571.62 347.28,569.37 346.60,568.80 L346.19,567.67 L343.94,566.68 L341.89,565.51 L341.53,564.66 L339.01,563.13 L338.08,562.22 L338.49,560.20 L338.21,559.66 L336.57,558.00 L334.56,556.12 L334.46,554.81 L333.33,553.23 L332.59,551.68 L333.11,550.27 L332.90,548.35 L332.47,546.63 L331.99,544.55 L332.79,543.44 L331.63,541.54 L329.65,539.48 L328.78,537.70 L329.01,536.35 L328.36,534.70 L328.11,533.42 L325.50,531.17 L327.00,529.71 L326.66,527.96 L324.16,526.48 L325.21,524.47 L323.19,522.84 L324.62,521.53 L322.06,519.28 L321.32,517.31 L322.15,515.62 L322.20,514.27 L321.95,512.94 L322.39,511.28 L322.92,509.50 L323.70,507.78 L325.94,506.67 L325.64,505.38 L326.61,503.59 L329.19,502.45 L328.71,501.40 L330.13,499.40 L332.53,498.11 L332.65,496.52 L333.74,496.09 L335.62,495.22 L337.45,494.20 L340.28,493.34 L340.98,492.79 L341.66,491.28 L344.80,490.98 L345.17,490.21 L348.06,490.65 L348.68,490.45 L352.01,489.92 L352.81,489.27 Z"/></clipPath>
<path d="M354.80,489.40 C355.83,489.53 358.97,489.63 361.00,490.20 C363.03,490.77 364.87,491.23 367.00,492.80 C369.13,494.37 372.22,495.53 373.80,499.60 C375.38,503.67 375.93,512.68 376.50,517.20 C377.07,521.72 377.43,522.40 377.20,526.70 C376.97,531.00 375.90,538.02 375.10,543.00 C374.30,547.98 373.30,552.53 372.40,556.60 C371.50,560.67 370.60,564.92 369.70,567.40 C368.80,569.88 368.95,570.68 367.00,571.50 C365.05,572.32 360.72,572.18 358.00,572.30 C355.28,572.42 352.60,572.78 350.70,572.20 C348.80,571.62 347.28,569.37 346.60,568.80 L346.19,567.67 L343.94,566.68 L341.89,565.51 L341.53,564.66 L339.01,563.13 L338.08,562.22 L338.49,560.20 L338.21,559.66 L336.57,558.00 L334.56,556.12 L334.46,554.81 L333.33,553.23 L332.59,551.68 L333.11,550.27 L332.90,548.35 L332.47,546.63 L331.99,544.55 L332.79,543.44 L331.63,541.54 L329.65,539.48 L328.78,537.70 L329.01,536.35 L328.36,534.70 L328.11,533.42 L325.50,531.17 L327.00,529.71 L326.66,527.96 L324.16,526.48 L325.21,524.47 L323.19,522.84 L324.62,521.53 L322.06,519.28 L321.32,517.31 L322.15,515.62 L322.20,514.27 L321.95,512.94 L322.39,511.28 L322.92,509.50 L323.70,507.78 L325.94,506.67 L325.64,505.38 L326.61,503.59 L329.19,502.45 L328.71,501.40 L330.13,499.40 L332.53,498.11 L332.65,496.52 L333.74,496.09 L335.62,495.22 L337.45,494.20 L340.28,493.34 L340.98,492.79 L341.66,491.28 L344.80,490.98 L345.17,490.21 L348.06,490.65 L348.68,490.45 L352.01,489.92 L352.81,489.27 Z" fill="url(#gf4)"/>
<g clip-path="url(#cf3)">
<path d="M354.80,489.40 C355.83,489.53 358.97,489.63 361.00,490.20 C363.03,490.77 364.87,491.23 367.00,492.80 C369.13,494.37 372.22,495.53 373.80,499.60 C375.38,503.67 375.93,512.68 376.50,517.20 C377.07,521.72 377.43,522.40 377.20,526.70 C376.97,531.00 375.90,538.02 375.10,543.00 C374.30,547.98 373.30,552.53 372.40,556.60 C371.50,560.67 370.60,564.92 369.70,567.40 C368.80,569.88 368.95,570.68 367.00,571.50 C365.05,572.32 360.72,572.18 358.00,572.30 C355.28,572.42 352.60,572.78 350.70,572.20 C348.80,571.62 347.28,569.37 346.60,568.80 L346.19,567.67 L343.94,566.68 L341.89,565.51 L341.53,564.66 L339.01,563.13 L338.08,562.22 L338.49,560.20 L338.21,559.66 L336.57,558.00 L334.56,556.12 L334.46,554.81 L333.33,553.23 L332.59,551.68 L333.11,550.27 L332.90,548.35 L332.47,546.63 L331.99,544.55 L332.79,543.44 L331.63,541.54 L329.65,539.48 L328.78,537.70 L329.01,536.35 L328.36,534.70 L328.11,533.42 L325.50,531.17 L327.00,529.71 L326.66,527.96 L324.16,526.48 L325.21,524.47 L323.19,522.84 L324.62,521.53 L322.06,519.28 L321.32,517.31 L322.15,515.62 L322.20,514.27 L321.95,512.94 L322.39,511.28 L322.92,509.50 L323.70,507.78 L325.94,506.67 L325.64,505.38 L326.61,503.59 L329.19,502.45 L328.71,501.40 L330.13,499.40 L332.53,498.11 L332.65,496.52 L333.74,496.09 L335.62,495.22 L337.45,494.20 L340.28,493.34 L340.98,492.79 L341.66,491.28 L344.80,490.98 L345.17,490.21 L348.06,490.65 L348.68,490.45 L352.01,489.92 L352.81,489.27 Z" fill="#888" filter="url(#fGrain)" opacity="0.45"/>
<ellipse cx="351" cy="506" rx="11" ry="2.5" fill="#333" opacity="0.1" filter="url(#fBlur2)"/>
<ellipse cx="381" cy="506" rx="11" ry="2.5" fill="#333" opacity="0.1" filter="url(#fBlur2)"/>
<ellipse cx="360" cy="545.9" rx="8" ry="2.2" fill="#fff" opacity="0.22" filter="url(#fBlur1)"/>
<ellipse cx="360" cy="548.4" rx="8" ry="0.9" fill="#444" opacity="0.35" filter="url(#fBlur05)"/>
<ellipse cx="360" cy="551.9" rx="8" ry="2.2" fill="#fff" opacity="0.15" filter="url(#fBlur1)"/>
</g>
<clipPath id="cf4"><path d="M444.30,490.00 C445.67,490.47 450.57,491.20 452.50,492.80 C454.43,494.40 455.33,495.07 455.90,499.60 C456.47,504.13 455.80,513.22 455.90,520.00 C456.00,526.78 456.50,533.30 456.50,540.30 C456.50,547.30 456.23,556.80 455.90,562.00 C455.57,567.20 455.82,569.83 454.50,571.50 C453.18,573.17 449.92,572.00 448.00,572.00 C446.08,572.00 444.52,572.27 443.00,571.50 C441.48,570.73 439.58,568.08 438.90,567.40 L437.35,566.04 L436.42,564.60 L436.20,562.59 L434.30,561.42 L433.09,559.45 L433.20,558.45 L432.35,556.41 L432.34,554.80 L429.69,553.32 L429.96,551.60 L428.69,550.33 L428.88,548.59 L427.75,547.72 L428.43,545.98 L427.12,544.37 L425.40,542.20 L424.61,541.29 L425.60,539.64 L423.60,537.67 L424.10,536.07 L423.23,534.61 L422.18,532.53 L423.12,531.15 L422.54,529.42 L422.07,528.05 L420.52,526.29 L421.14,524.90 L419.49,523.27 L419.89,521.52 L418.77,519.80 L418.25,518.20 L416.71,516.42 L418.29,514.83 L418.38,512.70 L419.07,511.17 L419.09,509.70 L418.98,507.92 L419.77,506.44 L421.66,504.76 L423.04,503.65 L423.75,502.67 L423.86,500.52 L424.86,499.76 L426.00,498.24 L428.91,497.60 L429.24,496.73 L430.35,495.46 L431.42,494.18 L434.12,493.54 L435.64,492.00 L436.57,491.59 L437.17,491.40 L440.29,491.36 L441.60,491.10 L442.23,490.06 Z"/></clipPath>
<path d="M444.30,490.00 C445.67,490.47 450.57,491.20 452.50,492.80 C454.43,494.40 455.33,495.07 455.90,499.60 C456.47,504.13 455.80,513.22 455.90,520.00 C456.00,526.78 456.50,533.30 456.50,540.30 C456.50,547.30 456.23,556.80 455.90,562.00 C455.57,567.20 455.82,569.83 454.50,571.50 C453.18,573.17 449.92,572.00 448.00,572.00 C446.08,572.00 444.52,572.27 443.00,571.50 C441.48,570.73 439.58,568.08 438.90,567.40 L437.35,566.04 L436.42,564.60 L436.20,562.59 L434.30,561.42 L433.09,559.45 L433.20,558.45 L432.35,556.41 L432.34,554.80 L429.69,553.32 L429.96,551.60 L428.69,550.33 L428.88,548.59 L427.75,547.72 L428.43,545.98 L427.12,544.37 L425.40,542.20 L424.61,541.29 L425.60,539.64 L423.60,537.67 L424.10,536.07 L423.23,534.61 L422.18,532.53 L423.12,531.15 L422.54,529.42 L422.07,528.05 L420.52,526.29 L421.14,524.90 L419.49,523.27 L419.89,521.52 L418.77,519.80 L418.25,518.20 L416.71,516.42 L418.29,514.83 L418.38,512.70 L419.07,511.17 L419.09,509.70 L418.98,507.92 L419.77,506.44 L421.66,504.76 L423.04,503.65 L423.75,502.67 L423.86,500.52 L424.86,499.76 L426.00,498.24 L428.91,497.60 L429.24,496.73 L430.35,495.46 L431.42,494.18 L434.12,493.54 L435.64,492.00 L436.57,491.59 L437.17,491.40 L440.29,491.36 L441.60,491.10 L442.23,490.06 Z" fill="url(#gf5)"/>
<g clip-path="url(#cf4)">
<path d="M444.30,490.00 C445.67,490.47 450.57,491.20 452.50,492.80 C454.43,494.40 455.33,495.07 455.90,499.60 C456.47,504.13 455.80,513.22 455.90,520.00 C456.00,526.78 456.50,533.30 456.50,540.30 C456.50,547.30 456.23,556.80 455.90,562.00 C455.57,567.20 455.82,569.83 454.50,571.50 C453.18,573.17 449.92,572.00 448.00,572.00 C446.08,572.00 444.52,572.27 443.00,571.50 C441.48,570.73 439.58,568.08 438.90,567.40 L437.35,566.04 L436.42,564.60 L436.20,562.59 L434.30,561.42 L433.09,559.45 L433.20,558.45 L432.35,556.41 L432.34,554.80 L429.69,553.32 L429.96,551.60 L428.69,550.33 L428.88,548.59 L427.75,547.72 L428.43,545.98 L427.12,544.37 L425.40,542.20 L424.61,541.29 L425.60,539.64 L423.60,537.67 L424.10,536.07 L423.23,534.61 L422.18,532.53 L423.12,531.15 L422.54,529.42 L422.07,528.05 L420.52,526.29 L421.14,524.90 L419.49,523.27 L419.89,521.52 L418.77,519.80 L418.25,518.20 L416.71,516.42 L418.29,514.83 L418.38,512.70 L419.07,511.17 L419.09,509.70 L418.98,507.92 L419.77,506.44 L421.66,504.76 L423.04,503.65 L423.75,502.67 L423.86,500.52 L424.86,499.76 L426.00,498.24 L428.91,497.60 L429.24,496.73 L430.35,495.46 L431.42,494.18 L434.12,493.54 L435.64,492.00 L436.57,491.59 L437.17,491.40 L440.29,491.36 L441.60,491.10 L442.23,490.06 Z" fill="#888" filter="url(#fGrain)" opacity="0.45"/>
<ellipse cx="438.8" cy="506" rx="11" ry="2.5" fill="#333" opacity="0.1" filter="url(#fBlur2)"/>
<ellipse cx="468.8" cy="506" rx="11" ry="2.5" fill="#333" opacity="0.1" filter="url(#fBlur2)"/>
<ellipse cx="447.8" cy="546.0" rx="6" ry="2.2" fill="#fff" opacity="0.22" filter="url(#fBlur1)"/>
<ellipse cx="447.8" cy="548.5" rx="6" ry="0.9" fill="#444" opacity="0.35" filter="url(#fBlur05)"/>
<ellipse cx="447.8" cy="552.0" rx="6" ry="2.2" fill="#fff" opacity="0.15" filter="url(#fBlur1)"/>
</g>
<clipPath id="cf5"><path d="M520.80,490.60 C524.63,490.68 530.47,490.60 535.00,492.00 C539.53,493.40 544.33,496.00 548.00,499.00 C551.67,502.00 554.67,506.83 557.00,510.00 C559.33,513.17 560.92,515.63 562.00,518.00 C563.08,520.37 563.33,521.37 563.50,524.20 C563.67,527.03 563.58,531.37 563.00,535.00 C562.42,538.63 561.18,542.97 560.00,546.00 C558.82,549.03 558.07,550.53 555.90,553.20 C553.73,555.87 550.48,559.37 547.00,562.00 C543.52,564.63 539.12,567.28 535.00,569.00 C530.88,570.72 526.47,572.13 522.30,572.30 C518.13,572.47 513.72,571.55 510.00,570.00 C506.28,568.45 502.78,565.55 500.00,563.00 C497.22,560.45 495.47,558.20 493.30,554.70 C491.13,551.20 488.40,546.12 487.00,542.00 C485.60,537.88 485.25,532.97 484.90,530.00 C484.55,527.03 484.55,527.20 484.90,524.20 C485.25,521.20 485.65,515.53 487.00,512.00 C488.35,508.47 490.33,505.83 493.00,503.00 C495.67,500.17 499.83,496.92 503.00,495.00 C506.17,493.08 509.03,492.23 512.00,491.50 C514.97,490.77 516.97,490.52 520.80,490.60 Z"/></clipPath>
<path d="M520.80,490.60 C524.63,490.68 530.47,490.60 535.00,492.00 C539.53,493.40 544.33,496.00 548.00,499.00 C551.67,502.00 554.67,506.83 557.00,510.00 C559.33,513.17 560.92,515.63 562.00,518.00 C563.08,520.37 563.33,521.37 563.50,524.20 C563.67,527.03 563.58,531.37 563.00,535.00 C562.42,538.63 561.18,542.97 560.00,546.00 C558.82,549.03 558.07,550.53 555.90,553.20 C553.73,555.87 550.48,559.37 547.00,562.00 C543.52,564.63 539.12,567.28 535.00,569.00 C530.88,570.72 526.47,572.13 522.30,572.30 C518.13,572.47 513.72,571.55 510.00,570.00 C506.28,568.45 502.78,565.55 500.00,563.00 C497.22,560.45 495.47,558.20 493.30,554.70 C491.13,551.20 488.40,546.12 487.00,542.00 C485.60,537.88 485.25,532.97 484.90,530.00 C484.55,527.03 484.55,527.20 484.90,524.20 C485.25,521.20 485.65,515.53 487.00,512.00 C488.35,508.47 490.33,505.83 493.00,503.00 C495.67,500.17 499.83,496.92 503.00,495.00 C506.17,493.08 509.03,492.23 512.00,491.50 C514.97,490.77 516.97,490.52 520.80,490.60 Z" fill="url(#gf6)"/>
<g clip-path="url(#cf5)">
<path d="M520.80,490.60 C524.63,490.68 530.47,490.60 535.00,492.00 C539.53,493.40 544.33,496.00 548.00,499.00 C551.67,502.00 554.67,506.83 557.00,510.00 C559.33,513.17 560.92,515.63 562.00,518.00 C563.08,520.37 563.33,521.37 563.50,524.20 C563.67,527.03 563.58,531.37 563.00,535.00 C562.42,538.63 561.18,542.97 560.00,546.00 C558.82,549.03 558.07,550.53 555.90,553.20 C553.73,555.87 550.48,559.37 547.00,562.00 C543.52,564.63 539.12,567.28 535.00,569.00 C530.88,570.72 526.47,572.13 522.30,572.30 C518.13,572.47 513.72,571.55 510.00,570.00 C506.28,568.45 502.78,565.55 500.00,563.00 C497.22,560.45 495.47,558.20 493.30,554.70 C491.13,551.20 488.40,546.12 487.00,542.00 C485.60,537.88 485.25,532.97 484.90,530.00 C484.55,527.03 484.55,527.20 484.90,524.20 C485.25,521.20 485.65,515.53 487.00,512.00 C488.35,508.47 490.33,505.83 493.00,503.00 C495.67,500.17 499.83,496.92 503.00,495.00 C506.17,493.08 509.03,492.23 512.00,491.50 C514.97,490.77 516.97,490.52 520.80,490.60 Z" fill="#888" filter="url(#fGrain)" opacity="0.45"/>
<ellipse cx="522.3" cy="519.3" rx="2.6" ry="12" fill="url(#gNose)" opacity="0.48" filter="url(#fBlur1)"/>
<ellipse cx="522.3" cy="529.3" rx="5.5" ry="4.5" fill="#fff" opacity="0.18" filter="url(#fBlur2)"/>
<ellipse cx="522.3" cy="529.3" rx="1.8" ry="1.5" fill="#fff" opacity="0.27" filter="url(#fBlur05)"/>
<ellipse cx="507.29999999999995" cy="506" rx="11" ry="2.5" fill="#333" opacity="0.3" filter="url(#fBlur2)"/>
<ellipse cx="537.3" cy="506" rx="11" ry="2.5" fill="#333" opacity="0.3" filter="url(#fBlur2)"/>
<ellipse cx="522.3" cy="546.1" rx="12" ry="2.2" fill="#fff" opacity="0.22" filter="url(#fBlur1)"/>
<ellipse cx="522.3" cy="548.6" rx="12" ry="0.9" fill="#444" opacity="0.35" filter="url(#fBlur05)"/>
<ellipse cx="522.3" cy="552.1" rx="12" ry="2.2" fill="#fff" opacity="0.15" filter="url(#fBlur1)"/>
</g>
<clipPath id="cf6"><path d="M609.40,489.80 C613.07,489.80 617.68,489.10 622.00,490.50 C626.32,491.90 631.80,495.45 635.30,498.20 C638.80,500.95 641.05,504.37 643.00,507.00 C644.95,509.63 646.12,511.90 647.00,514.00 C647.88,516.10 648.30,516.93 648.30,519.60 C648.30,522.27 647.88,526.60 647.00,530.00 C646.12,533.40 644.43,537.15 643.00,540.00 C641.57,542.85 640.57,544.10 638.40,547.10 C636.23,550.10 633.07,554.68 630.00,558.00 C626.93,561.32 623.43,564.62 620.00,567.00 C616.57,569.38 612.90,572.30 609.40,572.30 C605.90,572.30 602.23,569.55 599.00,567.00 C595.77,564.45 592.85,560.32 590.00,557.00 C587.15,553.68 583.90,550.27 581.90,547.10 C579.90,543.93 579.07,541.68 578.00,538.00 C576.93,534.32 576.00,529.08 575.50,525.00 C575.00,520.92 574.75,516.67 575.00,513.50 C575.25,510.33 575.85,508.30 577.00,506.00 C578.15,503.70 579.40,501.87 581.90,499.70 C584.40,497.53 588.98,494.53 592.00,493.00 C595.02,491.47 597.10,491.03 600.00,490.50 C602.90,489.97 605.73,489.80 609.40,489.80 Z"/></clipPath>
<path d="M609.40,489.80 C613.07,489.80 617.68,489.10 622.00,490.50 C626.32,491.90 631.80,495.45 635.30,498.20 C638.80,500.95 641.05,504.37 643.00,507.00 C644.95,509.63 646.12,511.90 647.00,514.00 C647.88,516.10 648.30,516.93 648.30,519.60 C648.30,522.27 647.88,526.60 647.00,530.00 C646.12,533.40 644.43,537.15 643.00,540.00 C641.57,542.85 640.57,544.10 638.40,547.10 C636.23,550.10 633.07,554.68 630.00,558.00 C626.93,561.32 623.43,564.62 620.00,567.00 C616.57,569.38 612.90,572.30 609.40,572.30 C605.90,572.30 602.23,569.55 599.00,567.00 C595.77,564.45 592.85,560.32 590.00,557.00 C587.15,553.68 583.90,550.27 581.90,547.10 C579.90,543.93 579.07,541.68 578.00,538.00 C576.93,534.32 576.00,529.08 575.50,525.00 C575.00,520.92 574.75,516.67 575.00,513.50 C575.25,510.33 575.85,508.30 577.00,506.00 C578.15,503.70 579.40,501.87 581.90,499.70 C584.40,497.53 588.98,494.53 592.00,493.00 C595.02,491.47 597.10,491.03 600.00,490.50 C602.90,489.97 605.73,489.80 609.40,489.80 Z" fill="url(#gf7)"/>
<g clip-path="url(#cf6)">
<path d="M609.40,489.80 C613.07,489.80 617.68,489.10 622.00,490.50 C626.32,491.90 631.80,495.45 635.30,498.20 C638.80,500.95 641.05,504.37 643.00,507.00 C644.95,509.63 646.12,511.90 647.00,514.00 C647.88,516.10 648.30,516.93 648.30,519.60 C648.30,522.27 647.88,526.60 647.00,530.00 C646.12,533.40 644.43,537.15 643.00,540.00 C641.57,542.85 640.57,544.10 638.40,547.10 C636.23,550.10 633.07,554.68 630.00,558.00 C626.93,561.32 623.43,564.62 620.00,567.00 C616.57,569.38 612.90,572.30 609.40,572.30 C605.90,572.30 602.23,569.55 599.00,567.00 C595.77,564.45 592.85,560.32 590.00,557.00 C587.15,553.68 583.90,550.27 581.90,547.10 C579.90,543.93 579.07,541.68 578.00,538.00 C576.93,534.32 576.00,529.08 575.50,525.00 C575.00,520.92 574.75,516.67 575.00,513.50 C575.25,510.33 575.85,508.30 577.00,506.00 C578.15,503.70 579.40,501.87 581.90,499.70 C584.40,497.53 588.98,494.53 592.00,493.00 C595.02,491.47 597.10,491.03 600.00,490.50 C602.90,489.97 605.73,489.80 609.40,489.80 Z" fill="#888" filter="url(#fGrain)" opacity="0.45"/>
<ellipse cx="609.4" cy="520.8" rx="2.6" ry="12" fill="url(#gNose)" opacity="0.8" filter="url(#fBlur1)"/>
<ellipse cx="609.4" cy="530.8" rx="5.5" ry="4.5" fill="#fff" opacity="0.3" filter="url(#fBlur2)"/>
<ellipse cx="609.4" cy="530.8" rx="1.8" ry="1.5" fill="#fff" opacity="0.45" filter="url(#fBlur05)"/>
<ellipse cx="594.4" cy="507" rx="11" ry="2.5" fill="#333" opacity="0.14" filter="url(#fBlur2)"/>
<ellipse cx="624.4" cy="507" rx="11" ry="2.5" fill="#333" opacity="0.14" filter="url(#fBlur2)"/>
<ellipse cx="609.4" cy="545.3" rx="11" ry="2.2" fill="#fff" opacity="0.22" filter="url(#fBlur1)"/>
<ellipse cx="609.4" cy="547.8" rx="11" ry="0.9" fill="#444" opacity="0.35" filter="url(#fBlur05)"/>
<ellipse cx="609.4" cy="551.3" rx="11" ry="2.2" fill="#fff" opacity="0.15" filter="url(#fBlur1)"/>
</g>
<clipPath id="cn0"><path d="M71.00,573.50 C74.50,572.92 80.33,573.00 85.00,573.00 C89.67,573.00 95.17,572.75 99.00,573.50 C102.83,574.25 105.25,575.58 108.00,577.50 C110.75,579.42 113.42,582.25 115.50,585.00 C117.58,587.75 119.25,590.83 120.50,594.00 C121.75,597.17 122.67,600.33 123.00,604.00 C123.33,607.67 123.08,612.00 122.50,616.00 C121.92,620.00 120.92,624.00 119.50,628.00 C118.08,632.00 116.25,636.33 114.00,640.00 C111.75,643.67 109.00,647.37 106.00,650.00 C103.00,652.63 99.50,654.67 96.00,655.80 C92.50,656.93 88.50,656.93 85.00,656.80 C81.50,656.67 78.00,656.47 75.00,655.00 C72.00,653.53 69.33,650.83 67.00,648.00 C64.67,645.17 62.83,641.50 61.00,638.00 C59.17,634.50 57.33,631.00 56.00,627.00 C54.67,623.00 53.67,618.17 53.00,614.00 C52.33,609.83 51.83,605.83 52.00,602.00 C52.17,598.17 53.00,594.17 54.00,591.00 C55.00,587.83 56.33,585.42 58.00,583.00 C59.67,580.58 61.83,578.08 64.00,576.50 C66.17,574.92 67.50,574.08 71.00,573.50 Z"/></clipPath>
<path d="M71.00,573.50 C74.50,572.92 80.33,573.00 85.00,573.00 C89.67,573.00 95.17,572.75 99.00,573.50 C102.83,574.25 105.25,575.58 108.00,577.50 C110.75,579.42 113.42,582.25 115.50,585.00 C117.58,587.75 119.25,590.83 120.50,594.00 C121.75,597.17 122.67,600.33 123.00,604.00 C123.33,607.67 123.08,612.00 122.50,616.00 C121.92,620.00 120.92,624.00 119.50,628.00 C118.08,632.00 116.25,636.33 114.00,640.00 C111.75,643.67 109.00,647.37 106.00,650.00 C103.00,652.63 99.50,654.67 96.00,655.80 C92.50,656.93 88.50,656.93 85.00,656.80 C81.50,656.67 78.00,656.47 75.00,655.00 C72.00,653.53 69.33,650.83 67.00,648.00 C64.67,645.17 62.83,641.50 61.00,638.00 C59.17,634.50 57.33,631.00 56.00,627.00 C54.67,623.00 53.67,618.17 53.00,614.00 C52.33,609.83 51.83,605.83 52.00,602.00 C52.17,598.17 53.00,594.17 54.00,591.00 C55.00,587.83 56.33,585.42 58.00,583.00 C59.67,580.58 61.83,578.08 64.00,576.50 C66.17,574.92 67.50,574.08 71.00,573.50 Z" fill="url(#gNrm)"/>
<g clip-path="url(#cn0)">
<rect x="27.5" y="554.9" width="120" height="120" fill="#fff" filter="url(#fNoise)" transform="rotate(-35 87.5 614.9)"/>
<path d="M83.5,590.5 L77.5,615 L85.5,614 Z" fill="#2830b0" opacity="0.75" filter="url(#fBlur1)"/>
<path d="M86.5,590.5 L93.5,615 L86.5,614 Z" fill="#ff4aa8" opacity="0.6" filter="url(#fBlur1)"/>
<ellipse cx="85.5" cy="616" rx="6" ry="1.5" fill="#60ffa0" opacity="0.9" filter="url(#fBlur1)"/>
<ellipse cx="69.5" cy="588.5" rx="9" ry="1.6" fill="#50ff98" opacity="0.6" filter="url(#fBlur1)"/>
<ellipse cx="101.5" cy="588.5" rx="9" ry="1.6" fill="#50ff98" opacity="0.6" filter="url(#fBlur1)"/>
<ellipse cx="85.5" cy="631.8" rx="14" ry="1.6" fill="#60ffa0" opacity="1" filter="url(#fBlur1)"/>
<ellipse cx="85.5" cy="635.0999999999999" rx="14" ry="1.5" fill="#b01890" opacity="0.9" filter="url(#fBlur1)"/>
</g>
<clipPath id="cn1"><path d="M158.30,573.50 C161.80,572.92 167.63,573.00 172.30,573.00 C176.97,573.00 182.47,572.75 186.30,573.50 C190.13,574.25 192.55,575.58 195.30,577.50 C198.05,579.42 200.72,582.25 202.80,585.00 C204.88,587.75 206.55,590.83 207.80,594.00 C209.05,597.17 209.97,600.33 210.30,604.00 C210.63,607.67 210.38,612.00 209.80,616.00 C209.22,620.00 208.22,624.00 206.80,628.00 C205.38,632.00 203.55,636.33 201.30,640.00 C199.05,643.67 196.30,647.37 193.30,650.00 C190.30,652.63 186.80,654.67 183.30,655.80 C179.80,656.93 175.80,656.93 172.30,656.80 C168.80,656.67 165.30,656.47 162.30,655.00 C159.30,653.53 156.63,650.83 154.30,648.00 C151.97,645.17 150.13,641.50 148.30,638.00 C146.47,634.50 144.63,631.00 143.30,627.00 C141.97,623.00 140.97,618.17 140.30,614.00 C139.63,609.83 139.13,605.83 139.30,602.00 C139.47,598.17 140.30,594.17 141.30,591.00 C142.30,587.83 143.63,585.42 145.30,583.00 C146.97,580.58 149.13,578.08 151.30,576.50 C153.47,574.92 154.80,574.08 158.30,573.50 Z"/></clipPath>
<path d="M158.30,573.50 C161.80,572.92 167.63,573.00 172.30,573.00 C176.97,573.00 182.47,572.75 186.30,573.50 C190.13,574.25 192.55,575.58 195.30,577.50 C198.05,579.42 200.72,582.25 202.80,585.00 C204.88,587.75 206.55,590.83 207.80,594.00 C209.05,597.17 209.97,600.33 210.30,604.00 C210.63,607.67 210.38,612.00 209.80,616.00 C209.22,620.00 208.22,624.00 206.80,628.00 C205.38,632.00 203.55,636.33 201.30,640.00 C199.05,643.67 196.30,647.37 193.30,650.00 C190.30,652.63 186.80,654.67 183.30,655.80 C179.80,656.93 175.80,656.93 172.30,656.80 C168.80,656.67 165.30,656.47 162.30,655.00 C159.30,653.53 156.63,650.83 154.30,648.00 C151.97,645.17 150.13,641.50 148.30,638.00 C146.47,634.50 144.63,631.00 143.30,627.00 C141.97,623.00 140.97,618.17 140.30,614.00 C139.63,609.83 139.13,605.83 139.30,602.00 C139.47,598.17 140.30,594.17 141.30,591.00 C142.30,587.83 143.63,585.42 145.30,583.00 C146.97,580.58 149.13,578.08 151.30,576.50 C153.47,574.92 154.80,574.08 158.30,573.50 Z" fill="url(#gNrm)"/>
<g clip-path="url(#cn1)">
<rect x="114.80000000000001" y="554.9" width="120" height="120" fill="#fff" filter="url(#fNoise)" transform="rotate(-35 174.8 614.9)"/>
<path d="M170.8,590.5 L164.8,615 L172.8,614 Z" fill="#2830b0" opacity="0.75" filter="url(#fBlur1)"/>
<path d="M173.8,590.5 L180.8,615 L173.8,614 Z" fill="#ff4aa8" opacity="0.6" filter="url(#fBlur1)"/>
<ellipse cx="172.8" cy="616" rx="6" ry="1.5" fill="#60ffa0" opacity="0.9" filter="url(#fBlur1)"/>
<ellipse cx="156.8" cy="588.5" rx="9" ry="1.6" fill="#50ff98" opacity="0.6" filter="url(#fBlur1)"/>
<ellipse cx="188.8" cy="588.5" rx="9" ry="1.6" fill="#50ff98" opacity="0.6" filter="url(#fBlur1)"/>
<ellipse cx="172.8" cy="631.8" rx="14" ry="1.6" fill="#60ffa0" opacity="1" filter="url(#fBlur1)"/>
<ellipse cx="172.8" cy="635.0999999999999" rx="14" ry="1.5" fill="#b01890" opacity="0.9" filter="url(#fBlur1)"/>
</g>
<clipPath id="cn2"><path d="M262.40,573.20 C266.73,573.03 271.73,572.37 276.00,573.50 C280.27,574.63 285.33,577.42 288.00,580.00 C290.67,582.58 291.00,585.83 292.00,589.00 C293.00,592.17 293.45,595.10 294.00,599.00 C294.55,602.90 295.47,607.40 295.30,612.40 C295.13,617.40 294.13,624.40 293.00,629.00 C291.87,633.60 290.07,636.75 288.50,640.00 C286.93,643.25 285.68,646.17 283.60,648.50 C281.52,650.83 278.47,652.75 276.00,654.00 C273.53,655.25 271.47,656.00 268.80,656.00 C266.13,656.00 263.13,655.17 260.00,654.00 C256.87,652.83 252.78,650.63 250.00,649.00 C247.22,647.37 245.63,646.37 243.30,644.20 C240.97,642.03 238.30,638.47 236.00,636.00 C233.70,633.53 230.83,633.07 229.50,629.40 C228.17,625.73 228.35,618.60 228.00,614.00 C227.65,609.40 227.07,605.47 227.40,601.80 C227.73,598.13 229.12,594.12 230.00,592.00 C230.88,589.88 231.03,591.10 232.70,589.10 C234.37,587.10 237.12,582.43 240.00,580.00 C242.88,577.57 246.27,575.63 250.00,574.50 C253.73,573.37 258.07,573.37 262.40,573.20 Z"/></clipPath>
<path d="M262.40,573.20 C266.73,573.03 271.73,572.37 276.00,573.50 C280.27,574.63 285.33,577.42 288.00,580.00 C290.67,582.58 291.00,585.83 292.00,589.00 C293.00,592.17 293.45,595.10 294.00,599.00 C294.55,602.90 295.47,607.40 295.30,612.40 C295.13,617.40 294.13,624.40 293.00,629.00 C291.87,633.60 290.07,636.75 288.50,640.00 C286.93,643.25 285.68,646.17 283.60,648.50 C281.52,650.83 278.47,652.75 276.00,654.00 C273.53,655.25 271.47,656.00 268.80,656.00 C266.13,656.00 263.13,655.17 260.00,654.00 C256.87,652.83 252.78,650.63 250.00,649.00 C247.22,647.37 245.63,646.37 243.30,644.20 C240.97,642.03 238.30,638.47 236.00,636.00 C233.70,633.53 230.83,633.07 229.50,629.40 C228.17,625.73 228.35,618.60 228.00,614.00 C227.65,609.40 227.07,605.47 227.40,601.80 C227.73,598.13 229.12,594.12 230.00,592.00 C230.88,589.88 231.03,591.10 232.70,589.10 C234.37,587.10 237.12,582.43 240.00,580.00 C242.88,577.57 246.27,575.63 250.00,574.50 C253.73,573.37 258.07,573.37 262.40,573.20 Z" fill="url(#gNrm)"/>
<g clip-path="url(#cn2)">
<rect x="201.35000000000002" y="554.6" width="120" height="120" fill="#fff" filter="url(#fNoise)" transform="rotate(-35 261.35 614.6)"/>
<path d="M266.8,592 L260.8,615.5 L268.8,614.5 Z" fill="#2830b0" opacity="0.75" filter="url(#fBlur1)"/>
<path d="M269.8,592 L276.8,615.5 L269.8,614.5 Z" fill="#ff4aa8" opacity="0.6" filter="url(#fBlur1)"/>
<ellipse cx="268.8" cy="616.5" rx="6" ry="1.5" fill="#60ffa0" opacity="0.9" filter="url(#fBlur1)"/>
<ellipse cx="252.8" cy="590" rx="9" ry="1.6" fill="#50ff98" opacity="0.6" filter="url(#fBlur1)"/>
<ellipse cx="284.8" cy="590" rx="9" ry="1.6" fill="#50ff98" opacity="0.6" filter="url(#fBlur1)"/>
<ellipse cx="268.8" cy="630.0" rx="11" ry="1.6" fill="#60ffa0" opacity="1" filter="url(#fBlur1)"/>
<ellipse cx="268.8" cy="633.3" rx="11" ry="1.5" fill="#b01890" opacity="0.9" filter="url(#fBlur1)"/>
</g>
<clipPath id="cn3"><path d="M354.80,573.40 C355.83,573.53 358.97,573.63 361.00,574.20 C363.03,574.77 364.87,575.23 367.00,576.80 C369.13,578.37 372.22,579.53 373.80,583.60 C375.38,587.67 375.93,596.68 376.50,601.20 C377.07,605.72 377.43,606.40 377.20,610.70 C376.97,615.00 375.90,622.02 375.10,627.00 C374.30,631.98 373.30,636.53 372.40,640.60 C371.50,644.67 370.60,648.92 369.70,651.40 C368.80,653.88 368.95,654.68 367.00,655.50 C365.05,656.32 360.72,656.18 358.00,656.30 C355.28,656.42 352.60,656.78 350.70,656.20 C348.80,655.62 347.28,653.37 346.60,652.80 L344.63,651.62 L344.20,650.59 L342.17,649.80 L342.30,648.36 L338.96,646.89 L339.80,645.55 L338.53,644.66 L336.73,643.51 L335.18,641.58 L335.22,640.13 L335.13,638.97 L333.22,637.06 L333.91,635.67 L333.53,634.11 L333.53,632.63 L332.88,630.22 L332.03,628.46 L330.62,626.98 L331.35,625.08 L329.56,623.58 L329.67,622.10 L328.67,620.67 L327.37,619.06 L327.99,616.75 L327.55,615.62 L325.29,613.70 L325.88,612.41 L324.83,610.42 L325.43,608.94 L325.08,606.96 L323.93,605.04 L323.39,603.78 L322.51,601.89 L320.87,600.25 L323.12,598.74 L322.71,596.99 L322.80,595.51 L324.55,593.43 L323.42,591.93 L325.01,590.64 L326.04,588.63 L327.92,587.30 L329.07,586.04 L329.22,585.22 L329.97,583.31 L331.96,582.45 L333.85,581.07 L335.62,580.01 L337.17,578.76 L337.12,578.27 L338.81,577.56 L341.12,576.49 L343.11,575.64 L343.49,574.60 L346.48,574.84 L346.89,574.58 L350.38,574.07 L351.33,573.57 L353.06,573.62 Z"/></clipPath>
<path d="M354.80,573.40 C355.83,573.53 358.97,573.63 361.00,574.20 C363.03,574.77 364.87,575.23 367.00,576.80 C369.13,578.37 372.22,579.53 373.80,583.60 C375.38,587.67 375.93,596.68 376.50,601.20 C377.07,605.72 377.43,606.40 377.20,610.70 C376.97,615.00 375.90,622.02 375.10,627.00 C374.30,631.98 373.30,636.53 372.40,640.60 C371.50,644.67 370.60,648.92 369.70,651.40 C368.80,653.88 368.95,654.68 367.00,655.50 C365.05,656.32 360.72,656.18 358.00,656.30 C355.28,656.42 352.60,656.78 350.70,656.20 C348.80,655.62 347.28,653.37 346.60,652.80 L344.63,651.62 L344.20,650.59 L342.17,649.80 L342.30,648.36 L338.96,646.89 L339.80,645.55 L338.53,644.66 L336.73,643.51 L335.18,641.58 L335.22,640.13 L335.13,638.97 L333.22,637.06 L333.91,635.67 L333.53,634.11 L333.53,632.63 L332.88,630.22 L332.03,628.46 L330.62,626.98 L331.35,625.08 L329.56,623.58 L329.67,622.10 L328.67,620.67 L327.37,619.06 L327.99,616.75 L327.55,615.62 L325.29,613.70 L325.88,612.41 L324.83,610.42 L325.43,608.94 L325.08,606.96 L323.93,605.04 L323.39,603.78 L322.51,601.89 L320.87,600.25 L323.12,598.74 L322.71,596.99 L322.80,595.51 L324.55,593.43 L323.42,591.93 L325.01,590.64 L326.04,588.63 L327.92,587.30 L329.07,586.04 L329.22,585.22 L329.97,583.31 L331.96,582.45 L333.85,581.07 L335.62,580.01 L337.17,578.76 L337.12,578.27 L338.81,577.56 L341.12,576.49 L343.11,575.64 L343.49,574.60 L346.48,574.84 L346.89,574.58 L350.38,574.07 L351.33,573.57 L353.06,573.62 Z" fill="url(#gNrm)"/>
<g clip-path="url(#cn3)">
<rect x="301.9" y="554.8499999999999" width="120" height="120" fill="#fff" filter="url(#fNoise)" transform="rotate(-35 361.9 614.8499999999999)"/>
<path d="M364,592 L358,615.8 L366,614.8 Z" fill="#2830b0" opacity="0.75" filter="url(#fBlur1)"/>
<path d="M367,592 L374,615.8 L367,614.8 Z" fill="#ff4aa8" opacity="0.6" filter="url(#fBlur1)"/>
<ellipse cx="366" cy="616.8" rx="6" ry="1.5" fill="#60ffa0" opacity="0.9" filter="url(#fBlur1)"/>
<ellipse cx="350" cy="590" rx="9" ry="1.6" fill="#50ff98" opacity="0.6" filter="url(#fBlur1)"/>
<ellipse cx="382" cy="590" rx="9" ry="1.6" fill="#50ff98" opacity="0.6" filter="url(#fBlur1)"/>
<ellipse cx="360" cy="630.9" rx="8" ry="1.6" fill="#60ffa0" opacity="1" filter="url(#fBlur1)"/>
<ellipse cx="360" cy="634.1999999999999" rx="8" ry="1.5" fill="#b01890" opacity="0.9" filter="url(#fBlur1)"/>
</g>
<clipPath id="cn4"><path d="M444.30,574.00 C445.67,574.47 450.57,575.20 452.50,576.80 C454.43,578.40 455.33,579.07 455.90,583.60 C456.47,588.13 455.80,597.22 455.90,604.00 C456.00,610.78 456.50,617.30 456.50,624.30 C456.50,631.30 456.23,640.80 455.90,646.00 C455.57,651.20 455.82,653.83 454.50,655.50 C453.18,657.17 449.92,656.00 448.00,656.00 C446.08,656.00 444.52,656.27 443.00,655.50 C441.48,654.73 439.58,652.08 438.90,651.40 L438.96,649.87 L436.74,648.58 L436.12,646.76 L435.43,644.85 L434.13,643.61 L434.08,642.52 L431.59,640.58 L430.60,639.00 L431.44,637.88 L430.02,635.83 L428.72,634.55 L429.66,632.59 L428.66,630.96 L426.70,629.60 L427.11,628.14 L425.87,626.72 L424.81,625.13 L424.33,623.25 L424.10,621.28 L424.20,619.81 L423.35,618.10 L423.18,616.19 L421.95,614.92 L422.32,613.27 L422.20,611.78 L421.63,609.89 L420.79,608.84 L420.56,606.85 L418.68,605.83 L417.88,604.34 L418.92,601.78 L417.06,600.50 L416.67,598.15 L418.61,596.73 L419.19,594.77 L419.01,593.56 L418.84,591.44 L421.20,590.71 L422.73,588.66 L422.61,587.88 L423.51,586.46 L423.72,584.57 L424.43,583.19 L426.77,582.54 L428.17,581.15 L428.68,580.13 L431.48,579.75 L433.02,577.89 L432.48,577.57 L434.72,576.33 L436.00,575.72 L438.00,575.34 L439.77,574.62 L441.58,575.00 L442.02,574.31 Z"/></clipPath>
<path d="M444.30,574.00 C445.67,574.47 450.57,575.20 452.50,576.80 C454.43,578.40 455.33,579.07 455.90,583.60 C456.47,588.13 455.80,597.22 455.90,604.00 C456.00,610.78 456.50,617.30 456.50,624.30 C456.50,631.30 456.23,640.80 455.90,646.00 C455.57,651.20 455.82,653.83 454.50,655.50 C453.18,657.17 449.92,656.00 448.00,656.00 C446.08,656.00 444.52,656.27 443.00,655.50 C441.48,654.73 439.58,652.08 438.90,651.40 L438.96,649.87 L436.74,648.58 L436.12,646.76 L435.43,644.85 L434.13,643.61 L434.08,642.52 L431.59,640.58 L430.60,639.00 L431.44,637.88 L430.02,635.83 L428.72,634.55 L429.66,632.59 L428.66,630.96 L426.70,629.60 L427.11,628.14 L425.87,626.72 L424.81,625.13 L424.33,623.25 L424.10,621.28 L424.20,619.81 L423.35,618.10 L423.18,616.19 L421.95,614.92 L422.32,613.27 L422.20,611.78 L421.63,609.89 L420.79,608.84 L420.56,606.85 L418.68,605.83 L417.88,604.34 L418.92,601.78 L417.06,600.50 L416.67,598.15 L418.61,596.73 L419.19,594.77 L419.01,593.56 L418.84,591.44 L421.20,590.71 L422.73,588.66 L422.61,587.88 L423.51,586.46 L423.72,584.57 L424.43,583.19 L426.77,582.54 L428.17,581.15 L428.68,580.13 L431.48,579.75 L433.02,577.89 L432.48,577.57 L434.72,576.33 L436.00,575.72 L438.00,575.34 L439.77,574.62 L441.58,575.00 L442.02,574.31 Z" fill="url(#gNrm)"/>
<g clip-path="url(#cn4)">
<rect x="387.7" y="555.0" width="120" height="120" fill="#fff" filter="url(#fNoise)" transform="rotate(-35 447.7 615.0)"/>
<path d="M451.8,592 L445.8,615.8 L453.8,614.8 Z" fill="#2830b0" opacity="0.75" filter="url(#fBlur1)"/>
<path d="M454.8,592 L461.8,615.8 L454.8,614.8 Z" fill="#ff4aa8" opacity="0.6" filter="url(#fBlur1)"/>
<ellipse cx="453.8" cy="616.8" rx="6" ry="1.5" fill="#60ffa0" opacity="0.9" filter="url(#fBlur1)"/>
<ellipse cx="437.8" cy="590" rx="9" ry="1.6" fill="#50ff98" opacity="0.6" filter="url(#fBlur1)"/>
<ellipse cx="469.8" cy="590" rx="9" ry="1.6" fill="#50ff98" opacity="0.6" filter="url(#fBlur1)"/>
<ellipse cx="447.8" cy="631.0" rx="6" ry="1.6" fill="#60ffa0" opacity="1" filter="url(#fBlur1)"/>
<ellipse cx="447.8" cy="634.3" rx="6" ry="1.5" fill="#b01890" opacity="0.9" filter="url(#fBlur1)"/>
</g>
<clipPath id="cn5"><path d="M520.80,574.60 C524.63,574.68 530.47,574.60 535.00,576.00 C539.53,577.40 544.33,580.00 548.00,583.00 C551.67,586.00 554.67,590.83 557.00,594.00 C559.33,597.17 560.92,599.63 562.00,602.00 C563.08,604.37 563.33,605.37 563.50,608.20 C563.67,611.03 563.58,615.37 563.00,619.00 C562.42,622.63 561.18,626.97 560.00,630.00 C558.82,633.03 558.07,634.53 555.90,637.20 C553.73,639.87 550.48,643.37 547.00,646.00 C543.52,648.63 539.12,651.28 535.00,653.00 C530.88,654.72 526.47,656.13 522.30,656.30 C518.13,656.47 513.72,655.55 510.00,654.00 C506.28,652.45 502.78,649.55 500.00,647.00 C497.22,644.45 495.47,642.20 493.30,638.70 C491.13,635.20 488.40,630.12 487.00,626.00 C485.60,621.88 485.25,616.97 484.90,614.00 C484.55,611.03 484.55,611.20 484.90,608.20 C485.25,605.20 485.65,599.53 487.00,596.00 C488.35,592.47 490.33,589.83 493.00,587.00 C495.67,584.17 499.83,580.92 503.00,579.00 C506.17,577.08 509.03,576.23 512.00,575.50 C514.97,574.77 516.97,574.52 520.80,574.60 Z"/></clipPath>
<path d="M520.80,574.60 C524.63,574.68 530.47,574.60 535.00,576.00 C539.53,577.40 544.33,580.00 548.00,583.00 C551.67,586.00 554.67,590.83 557.00,594.00 C559.33,597.17 560.92,599.63 562.00,602.00 C563.08,604.37 563.33,605.37 563.50,608.20 C563.67,611.03 563.58,615.37 563.00,619.00 C562.42,622.63 561.18,626.97 560.00,630.00 C558.82,633.03 558.07,634.53 555.90,637.20 C553.73,639.87 550.48,643.37 547.00,646.00 C543.52,648.63 539.12,651.28 535.00,653.00 C530.88,654.72 526.47,656.13 522.30,656.30 C518.13,656.47 513.72,655.55 510.00,654.00 C506.28,652.45 502.78,649.55 500.00,647.00 C497.22,644.45 495.47,642.20 493.30,638.70 C491.13,635.20 488.40,630.12 487.00,626.00 C485.60,621.88 485.25,616.97 484.90,614.00 C484.55,611.03 484.55,611.20 484.90,608.20 C485.25,605.20 485.65,599.53 487.00,596.00 C488.35,592.47 490.33,589.83 493.00,587.00 C495.67,584.17 499.83,580.92 503.00,579.00 C506.17,577.08 509.03,576.23 512.00,575.50 C514.97,574.77 516.97,574.52 520.80,574.60 Z" fill="url(#gNrm)"/>
<g clip-path="url(#cn5)">
<rect x="464.20000000000005" y="555.45" width="120" height="120" fill="#fff" filter="url(#fNoise)" transform="rotate(-35 524.2 615.45)"/>
<path d="M520.3,592 L514.3,615.3 L522.3,614.3 Z" fill="#2830b0" opacity="0.75" filter="url(#fBlur1)"/>
<path d="M523.3,592 L530.3,615.3 L523.3,614.3 Z" fill="#ff4aa8" opacity="0.6" filter="url(#fBlur1)"/>
<ellipse cx="522.3" cy="616.3" rx="6" ry="1.5" fill="#60ffa0" opacity="0.9" filter="url(#fBlur1)"/>
<ellipse cx="506.29999999999995" cy="590" rx="9" ry="1.6" fill="#50ff98" opacity="0.6" filter="url(#fBlur1)"/>
<ellipse cx="538.3" cy="590" rx="9" ry="1.6" fill="#50ff98" opacity="0.6" filter="url(#fBlur1)"/>
<ellipse cx="522.3" cy="631.1" rx="12" ry="1.6" fill="#60ffa0" opacity="1" filter="url(#fBlur1)"/>
<ellipse cx="522.3" cy="634.4" rx="12" ry="1.5" fill="#b01890" opacity="0.9" filter="url(#fBlur1)"/>
</g>
<clipPath id="cn6"><path d="M609.40,573.80 C613.07,573.80 617.68,573.10 622.00,574.50 C626.32,575.90 631.80,579.45 635.30,582.20 C638.80,584.95 641.05,588.37 643.00,591.00 C644.95,593.63 646.12,595.90 647.00,598.00 C647.88,600.10 648.30,600.93 648.30,603.60 C648.30,606.27 647.88,610.60 647.00,614.00 C646.12,617.40 644.43,621.15 643.00,624.00 C641.57,626.85 640.57,628.10 638.40,631.10 C636.23,634.10 633.07,638.68 630.00,642.00 C626.93,645.32 623.43,648.62 620.00,651.00 C616.57,653.38 612.90,656.30 609.40,656.30 C605.90,656.30 602.23,653.55 599.00,651.00 C595.77,648.45 592.85,644.32 590.00,641.00 C587.15,637.68 583.90,634.27 581.90,631.10 C579.90,627.93 579.07,625.68 578.00,622.00 C576.93,618.32 576.00,613.08 575.50,609.00 C575.00,604.92 574.75,600.67 575.00,597.50 C575.25,594.33 575.85,592.30 577.00,590.00 C578.15,587.70 579.40,585.87 581.90,583.70 C584.40,581.53 588.98,578.53 592.00,577.00 C595.02,575.47 597.10,575.03 600.00,574.50 C602.90,573.97 605.73,573.80 609.40,573.80 Z"/></clipPath>
<path d="M609.40,573.80 C613.07,573.80 617.68,573.10 622.00,574.50 C626.32,575.90 631.80,579.45 635.30,582.20 C638.80,584.95 641.05,588.37 643.00,591.00 C644.95,593.63 646.12,595.90 647.00,598.00 C647.88,600.10 648.30,600.93 648.30,603.60 C648.30,606.27 647.88,610.60 647.00,614.00 C646.12,617.40 644.43,621.15 643.00,624.00 C641.57,626.85 640.57,628.10 638.40,631.10 C636.23,634.10 633.07,638.68 630.00,642.00 C626.93,645.32 623.43,648.62 620.00,651.00 C616.57,653.38 612.90,656.30 609.40,656.30 C605.90,656.30 602.23,653.55 599.00,651.00 C595.77,648.45 592.85,644.32 590.00,641.00 C587.15,637.68 583.90,634.27 581.90,631.10 C579.90,627.93 579.07,625.68 578.00,622.00 C576.93,618.32 576.00,613.08 575.50,609.00 C575.00,604.92 574.75,600.67 575.00,597.50 C575.25,594.33 575.85,592.30 577.00,590.00 C578.15,587.70 579.40,585.87 581.90,583.70 C584.40,581.53 588.98,578.53 592.00,577.00 C595.02,575.47 597.10,575.03 600.00,574.50 C602.90,573.97 605.73,573.80 609.40,573.80 Z" fill="url(#gNrm)"/>
<g clip-path="url(#cn6)">
<rect x="551.65" y="555.05" width="120" height="120" fill="#fff" filter="url(#fNoise)" transform="rotate(-35 611.65 615.05)"/>
<path d="M607.4,593 L601.4,616.8 L609.4,615.8 Z" fill="#2830b0" opacity="0.75" filter="url(#fBlur1)"/>
<path d="M610.4,593 L617.4,616.8 L610.4,615.8 Z" fill="#ff4aa8" opacity="0.6" filter="url(#fBlur1)"/>
<ellipse cx="609.4" cy="617.8" rx="6" ry="1.5" fill="#60ffa0" opacity="0.9" filter="url(#fBlur1)"/>
<ellipse cx="593.4" cy="591" rx="9" ry="1.6" fill="#50ff98" opacity="0.6" filter="url(#fBlur1)"/>
<ellipse cx="625.4" cy="591" rx="9" ry="1.6" fill="#50ff98" opacity="0.6" filter="url(#fBlur1)"/>
<ellipse cx="609.4" cy="630.3" rx="11" ry="1.6" fill="#60ffa0" opacity="1" filter="url(#fBlur1)"/>
<ellipse cx="609.4" cy="633.5999999999999" rx="11" ry="1.5" fill="#b01890" opacity="0.9" filter="url(#fBlur1)"/>
</g>
</svg>
</body></html>
